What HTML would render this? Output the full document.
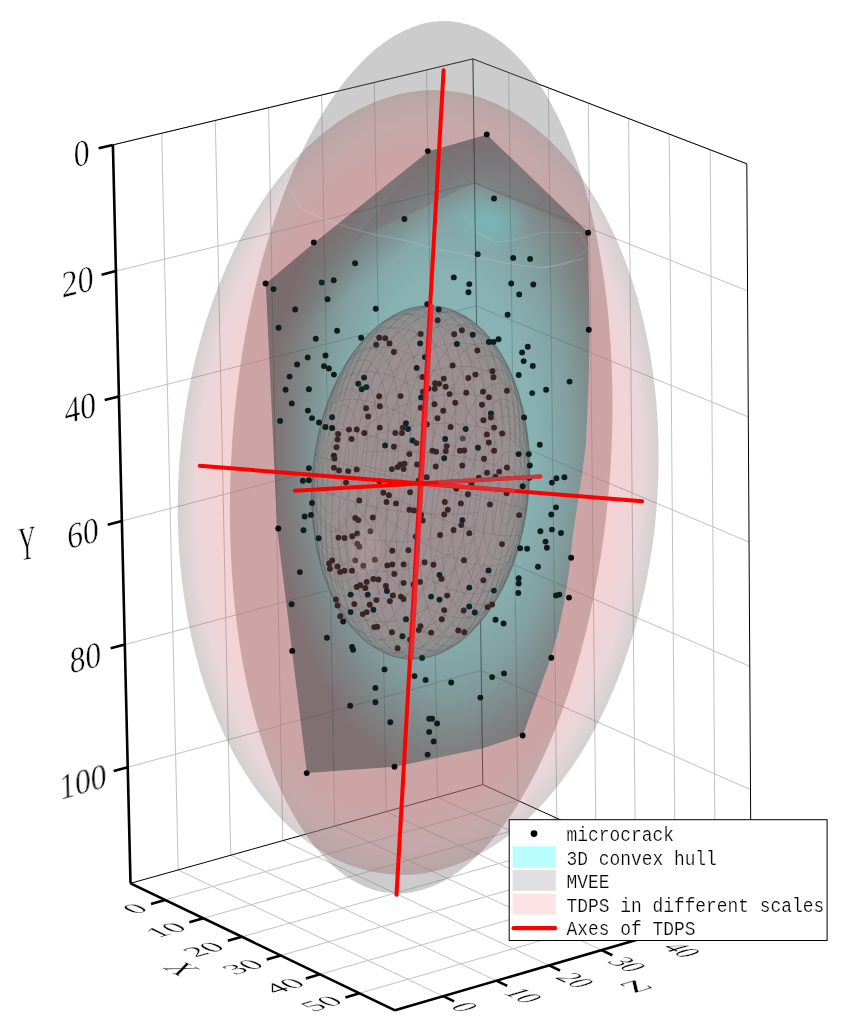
<!DOCTYPE html>
<html><head><meta charset="utf-8"><style>html,body{margin:0;padding:0;background:#fff;}svg{display:block;}</style></head>
<body>
<svg width="844" height="1034" viewBox="0 0 844 1034">
<rect width="844" height="1034" fill="#fff"/>
<g stroke="#c2c2c2" stroke-width="1" fill="none">
<line x1="161.7" y1="133.2" x2="178.2" y2="870.0"/>
<line x1="215.3" y1="120.4" x2="230.7" y2="855.3"/>
<line x1="268.6" y1="107.7" x2="282.8" y2="840.6"/>
<line x1="321.6" y1="95.0" x2="334.7" y2="826.1"/>
<line x1="374.3" y1="82.5" x2="386.2" y2="811.7"/>
<line x1="426.6" y1="70.0" x2="437.5" y2="797.3"/>
<line x1="112.9" y1="144.9" x2="472.9" y2="58.9"/>
<line x1="115.9" y1="271.1" x2="474.6" y2="182.9"/>
<line x1="118.9" y1="396.5" x2="476.3" y2="306.1"/>
<line x1="121.9" y1="521.0" x2="478.0" y2="428.4"/>
<line x1="124.8" y1="644.6" x2="479.6" y2="549.9"/>
<line x1="127.7" y1="767.3" x2="481.3" y2="670.5"/>
<line x1="508.7" y1="72.6" x2="517.9" y2="800.5"/>
<line x1="548.4" y1="87.8" x2="556.8" y2="818.1"/>
<line x1="588.3" y1="103.1" x2="595.9" y2="835.9"/>
<line x1="628.6" y1="118.5" x2="635.4" y2="853.8"/>
<line x1="669.2" y1="134.1" x2="675.2" y2="871.9"/>
<line x1="710.2" y1="149.8" x2="715.3" y2="890.1"/>
<line x1="472.9" y1="58.9" x2="746.8" y2="163.8"/>
<line x1="474.6" y1="182.9" x2="747.6" y2="290.8"/>
<line x1="476.3" y1="306.1" x2="748.3" y2="416.9"/>
<line x1="478.0" y1="428.4" x2="749.1" y2="542.0"/>
<line x1="479.6" y1="549.9" x2="749.8" y2="666.3"/>
<line x1="481.3" y1="670.5" x2="750.5" y2="789.7"/>
<line x1="165.0" y1="899.9" x2="517.9" y2="800.5"/>
<line x1="203.3" y1="918.3" x2="556.8" y2="818.1"/>
<line x1="241.9" y1="936.8" x2="595.9" y2="835.9"/>
<line x1="280.8" y1="955.5" x2="635.4" y2="853.8"/>
<line x1="320.0" y1="974.3" x2="675.2" y2="871.9"/>
<line x1="359.6" y1="993.3" x2="715.3" y2="890.1"/>
<line x1="178.2" y1="870.0" x2="443.2" y2="996.2"/>
<line x1="230.7" y1="855.3" x2="496.3" y2="980.7"/>
<line x1="282.8" y1="840.6" x2="549.1" y2="965.4"/>
<line x1="334.7" y1="826.1" x2="601.5" y2="950.1"/>
<line x1="386.2" y1="811.7" x2="653.6" y2="934.9"/>
<line x1="437.5" y1="797.3" x2="705.4" y2="919.8"/>
</g>
<g stroke="#000" stroke-width="1" fill="none">
<line x1="112.9" y1="144.9" x2="472.9" y2="58.9"/>
<line x1="472.9" y1="58.9" x2="746.8" y2="163.8"/>
<line x1="472.9" y1="58.9" x2="482.8" y2="784.6"/>
<line x1="746.8" y1="163.8" x2="751.2" y2="906.4"/>
<line x1="130.5" y1="883.3" x2="482.8" y2="784.6"/>
<line x1="482.8" y1="784.6" x2="751.2" y2="906.4"/>
</g>
<defs>
<radialGradient id="gA" cx="0.5" cy="0.5" r="0.5">
 <stop offset="0" stop-color="#cc4048" stop-opacity="0.235"/>
 <stop offset="0.84" stop-color="#cc4048" stop-opacity="0.235"/>
 <stop offset="0.93" stop-color="#a45860" stop-opacity="0.245"/>
 <stop offset="1" stop-color="#706262" stop-opacity="0.3"/>
</radialGradient>
<radialGradient id="gH" cx="0.56" cy="0.48" r="0.54">
 <stop offset="0" stop-color="#8cb7b8"/>
 <stop offset="0.5" stop-color="#88b1b2"/>
 <stop offset="0.7" stop-color="#829fa0"/>
 <stop offset="0.86" stop-color="#7e8586"/>
 <stop offset="1" stop-color="#807072"/>
</radialGradient>
<linearGradient id="gTop1" gradientUnits="userSpaceOnUse" x1="347" y1="217.5" x2="386" y2="266">
 <stop offset="0" stop-color="#7a6a6c" stop-opacity="0.75"/>
 <stop offset="1" stop-color="#6a6262" stop-opacity="0"/>
</linearGradient>
<linearGradient id="gTop2" gradientUnits="userSpaceOnUse" x1="537" y1="183" x2="505" y2="218">
 <stop offset="0" stop-color="#7a6a6c" stop-opacity="0.75"/>
 <stop offset="1" stop-color="#6a6262" stop-opacity="0"/>
</linearGradient>
<radialGradient id="gS" cx="0.5" cy="0.5" r="0.5">
 <stop offset="0" stop-color="#9e9092"/>
 <stop offset="0.75" stop-color="#9b8f91"/>
 <stop offset="0.9" stop-color="#948e8f"/>
 <stop offset="0.96" stop-color="#8c8e8e"/>
 <stop offset="1" stop-color="#808888"/>
</radialGradient>
<radialGradient id="gSpot" cx="0.5" cy="0.5" r="0.5">
 <stop offset="0" stop-color="#70c8cc" stop-opacity="0.55"/>
 <stop offset="1" stop-color="#70c8cc" stop-opacity="0"/>
</radialGradient>
<clipPath id="cEC"><ellipse cx="421.16" cy="457.24" rx="189.56" ry="437.01" transform="rotate(3.74 421.16 457.24)" /></clipPath>
<clipPath id="cH"><polygon points="265.8,283.6 314.0,243.0 428.3,151.4 486.8,134.7 588.0,232.2 589.6,329.3 588.7,382.0 585.9,444.0 581.9,475.0 577.2,506.0 572.6,537.0 569.5,568.0 564.8,599.0 558.6,630.0 551.0,657.4 522.9,735.1 482.0,748.5 394.7,766.8 306.9,772.9 277.2,529.1"/></clipPath>
</defs>
<ellipse cx="421.16" cy="457.24" rx="189.56" ry="437.01" transform="rotate(3.74 421.16 457.24)" fill="#808080" fill-opacity="0.4"/>
<ellipse cx="418.19" cy="482.46" rx="239.59" ry="392.87" transform="rotate(3.70 418.19 482.46)" fill="url(#gA)"/>
<g clip-path="url(#cEC)"><ellipse cx="418.19" cy="482.46" rx="239.59" ry="392.87" transform="rotate(3.70 418.19 482.46)" fill="#cc8c8e" fill-opacity="0.2"/></g>
<polygon points="265.8,283.6 314.0,243.0 428.3,151.4 486.8,134.7 588.0,232.2 589.6,329.3 588.7,382.0 585.9,444.0 581.9,475.0 577.2,506.0 572.6,537.0 569.5,568.0 564.8,599.0 558.6,630.0 551.0,657.4 522.9,735.1 482.0,748.5 394.7,766.8 306.9,772.9 277.2,529.1" fill="url(#gH)"/>
<g clip-path="url(#cH)"><polygon points="265.8,283.6 314.0,243.0 428.3,151.4 486.8,134.7 588.0,232.2 589.6,329.3 588.7,382.0 585.9,444.0 581.9,475.0 577.2,506.0 572.6,537.0 569.5,568.0 564.8,599.0 558.6,630.0 551.0,657.4 522.9,735.1 482.0,748.5 394.7,766.8 306.9,772.9 277.2,529.1" fill="url(#gTop1)"/></g>
<polygon points="352.4,241.6 428.3,151.4 486.8,134.7 588,232.2 473.5,183.4" fill="#7a6c6e" fill-opacity="0.4"/>
<ellipse cx="490" cy="222" rx="40" ry="30" fill="url(#gSpot)"/>
<polyline points="290.3,189.8 302,208.7 321,218.2 349.5,227.7 375.6,234.8 401.7,239.5 435.5,249 471,256 506.6,263.2 542.2,268 584.8,258.5" fill="none" stroke="#d8f4f4" stroke-opacity="0.22" stroke-width="1"/>
<polyline points="461.6,213.5 478.2,232.4 494.8,241.9 511.4,240.7 542.2,232.4 580,232.4 587.2,249 565.9,264.4 542.2,268" fill="none" stroke="#d8f4f4" stroke-opacity="0.16" stroke-width="1"/>
<g clip-path="url(#cH)" opacity="0.45"><g stroke="#2a4848" stroke-width="1" fill="none" stroke-opacity="0.55"><line x1="161.7" y1="133.2" x2="178.2" y2="870.0"/>
<line x1="215.3" y1="120.4" x2="230.7" y2="855.3"/>
<line x1="268.6" y1="107.7" x2="282.8" y2="840.6"/>
<line x1="321.6" y1="95.0" x2="334.7" y2="826.1"/>
<line x1="374.3" y1="82.5" x2="386.2" y2="811.7"/>
<line x1="426.6" y1="70.0" x2="437.5" y2="797.3"/>
<line x1="112.9" y1="144.9" x2="472.9" y2="58.9"/>
<line x1="115.9" y1="271.1" x2="474.6" y2="182.9"/>
<line x1="118.9" y1="396.5" x2="476.3" y2="306.1"/>
<line x1="121.9" y1="521.0" x2="478.0" y2="428.4"/>
<line x1="124.8" y1="644.6" x2="479.6" y2="549.9"/>
<line x1="127.7" y1="767.3" x2="481.3" y2="670.5"/>
<line x1="508.7" y1="72.6" x2="517.9" y2="800.5"/>
<line x1="548.4" y1="87.8" x2="556.8" y2="818.1"/>
<line x1="588.3" y1="103.1" x2="595.9" y2="835.9"/>
<line x1="628.6" y1="118.5" x2="635.4" y2="853.8"/>
<line x1="669.2" y1="134.1" x2="675.2" y2="871.9"/>
<line x1="710.2" y1="149.8" x2="715.3" y2="890.1"/>
<line x1="472.9" y1="58.9" x2="746.8" y2="163.8"/>
<line x1="474.6" y1="182.9" x2="747.6" y2="290.8"/>
<line x1="476.3" y1="306.1" x2="748.3" y2="416.9"/>
<line x1="478.0" y1="428.4" x2="749.1" y2="542.0"/>
<line x1="479.6" y1="549.9" x2="749.8" y2="666.3"/>
<line x1="481.3" y1="670.5" x2="750.5" y2="789.7"/>
<line x1="165.0" y1="899.9" x2="517.9" y2="800.5"/>
<line x1="203.3" y1="918.3" x2="556.8" y2="818.1"/>
<line x1="241.9" y1="936.8" x2="595.9" y2="835.9"/>
<line x1="280.8" y1="955.5" x2="635.4" y2="853.8"/>
<line x1="320.0" y1="974.3" x2="675.2" y2="871.9"/>
<line x1="359.6" y1="993.3" x2="715.3" y2="890.1"/>
<line x1="178.2" y1="870.0" x2="443.2" y2="996.2"/>
<line x1="230.7" y1="855.3" x2="496.3" y2="980.7"/>
<line x1="282.8" y1="840.6" x2="549.1" y2="965.4"/>
<line x1="334.7" y1="826.1" x2="601.5" y2="950.1"/>
<line x1="386.2" y1="811.7" x2="653.6" y2="934.9"/>
<line x1="437.5" y1="797.3" x2="705.4" y2="919.8"/></g><g stroke="#000" stroke-width="1"><line x1="472.9" y1="58.9" x2="482.8" y2="784.6"/><line x1="130.5" y1="883.3" x2="482.8" y2="784.6"/><line x1="482.8" y1="784.6" x2="751.2" y2="906.4"/><line x1="746.8" y1="163.8" x2="751.2" y2="906.4"/></g></g>
<ellipse cx="420.60" cy="482.50" rx="108.50" ry="177.00" transform="rotate(4.32 420.60 482.50)" fill="url(#gS)"/>
<path d="M506.6,441.1 L505.2,430.7 L503.5,420.6 L501.5,410.6 L499.2,401.0 L496.6,391.6 L493.7,382.6 L490.5,374.0 L487.1,365.7 L483.4,357.9 L479.5,350.6 L475.4,343.8 L471.1,337.4 L466.5,331.7 L461.8,326.5 L457.0,321.8 L452.0,317.8 L446.9,314.4 L441.7,311.6 L436.4,309.5 L431.1,308.0 L425.7,307.2 L420.3,307.0 L414.9,307.5 L409.5,308.6 L404.2,310.4 L398.9,312.9 L393.7,315.9 L388.6,319.6 L383.6,323.9 L378.8,328.8 L374.1,334.3 L369.6,340.3 L365.3,346.9 L361.2,354.0 L357.3,361.5 L353.6,369.5 L350.3,377.9 L347.1,386.8 L344.3,395.9 M511.1,440.8 L510.4,430.5 L509.4,420.3 L508.0,410.3 L506.3,400.6 L504.3,391.2 L502.0,382.2 L499.4,373.5 L496.4,365.2 L493.2,357.4 L489.7,350.1 L486.0,343.2 L482.0,336.9 L477.8,331.1 L473.4,325.9 L468.7,321.2 L463.9,317.2 L459.0,313.8 L453.9,311.0 L448.6,308.9 L443.3,307.4 L437.8,306.5 L432.3,306.4 L426.8,306.9 L421.3,308.0 L415.7,309.8 L410.1,312.3 L404.6,315.4 L399.2,319.1 L393.8,323.4 L388.6,328.3 L383.4,333.8 L378.4,339.9 L373.6,346.5 L368.9,353.6 L364.4,361.1 L360.1,369.2 L356.1,377.6 L352.3,386.5 L348.8,395.7 M515.2,443.1 L515.2,433.0 L514.8,423.2 L514.0,413.5 L512.9,404.1 L511.4,395.0 L509.6,386.3 L507.5,377.9 L505.0,369.9 L502.2,362.3 L499.1,355.1 L495.8,348.5 L492.1,342.3 L488.2,336.7 L484.0,331.6 L479.6,327.1 L474.9,323.1 L470.1,319.8 L465.1,317.0 L459.9,314.9 L454.5,313.4 L449.0,312.6 L443.5,312.4 L437.8,312.8 L432.1,313.8 L426.3,315.5 L420.5,317.9 L414.7,320.8 L409.0,324.3 L403.2,328.5 L397.6,333.2 L392.0,338.4 L386.5,344.2 L381.2,350.6 L376.0,357.4 L371.0,364.7 L366.1,372.4 L361.5,380.5 L357.1,389.1 L352.9,397.9 M518.9,447.7 L519.4,438.3 L519.5,429.2 L519.2,420.2 L518.6,411.4 L517.6,402.9 L516.3,394.8 L514.6,386.9 L512.5,379.4 L510.1,372.3 L507.4,365.6 L504.3,359.3 L500.9,353.5 L497.2,348.2 L493.3,343.4 L489.0,339.1 L484.5,335.4 L479.8,332.2 L474.9,329.5 L469.7,327.4 L464.4,326.0 L458.8,325.1 L453.2,324.8 L447.4,325.0 L441.5,325.9 L435.6,327.4 L429.6,329.4 L423.5,332.0 L417.5,335.2 L411.5,338.9 L405.4,343.2 L399.5,348.0 L393.6,353.3 L387.9,359.1 L382.2,365.3 L376.7,372.0 L371.4,379.1 L366.2,386.5 L361.3,394.4 L356.5,402.6 M521.8,454.5 L522.8,446.2 L523.3,438.0 L523.5,430.0 L523.3,422.2 L522.7,414.6 L521.7,407.3 L520.4,400.3 L518.7,393.5 L516.6,387.1 L514.1,381.1 L511.3,375.4 L508.2,370.1 L504.7,365.3 L500.9,360.9 L496.8,356.9 L492.4,353.5 L487.8,350.5 L482.9,348.0 L477.8,346.0 L472.4,344.5 L466.9,343.5 L461.2,343.1 L455.3,343.1 L449.3,343.7 L443.2,344.8 L437.0,346.5 L430.8,348.6 L424.5,351.3 L418.2,354.4 L411.9,358.0 L405.6,362.1 L399.4,366.6 L393.3,371.6 L387.3,377.0 L381.4,382.8 L375.7,388.9 L370.1,395.4 L364.7,402.2 L359.5,409.4 M524.0,463.3 L525.3,456.3 L526.2,449.4 L526.7,442.7 L526.8,436.1 L526.5,429.7 L525.8,423.4 L524.7,417.4 L523.2,411.7 L521.3,406.2 L519.1,401.0 L516.5,396.1 L513.5,391.5 L510.2,387.2 L506.5,383.4 L502.5,379.8 L498.2,376.7 L493.7,374.0 L488.8,371.7 L483.7,369.8 L478.4,368.3 L472.8,367.2 L467.1,366.6 L461.1,366.4 L455.0,366.6 L448.8,367.3 L442.5,368.4 L436.1,370.0 L429.7,371.9 L423.2,374.3 L416.7,377.1 L410.2,380.2 L403.7,383.8 L397.4,387.7 L391.1,392.0 L384.9,396.6 L378.8,401.6 L372.9,406.8 L367.2,412.3 L361.7,418.1 M525.4,473.6 L526.9,468.3 L527.9,462.9 L528.6,457.7 L528.9,452.5 L528.8,447.4 L528.2,442.5 L527.3,437.7 L526.0,433.1 L524.2,428.7 L522.1,424.5 L519.6,420.5 L516.8,416.7 L513.5,413.2 L510.0,409.9 L506.0,406.9 L501.8,404.2 L497.3,401.8 L492.4,399.7 L487.4,397.9 L482.0,396.4 L476.4,395.3 L470.7,394.4 L464.7,393.9 L458.5,393.7 L452.3,393.9 L445.9,394.4 L439.4,395.2 L432.8,396.4 L426.2,397.8 L419.6,399.6 L413.0,401.7 L406.4,404.1 L399.8,406.8 L393.4,409.8 L387.0,413.0 L380.8,416.5 L374.7,420.3 L368.8,424.3 L363.0,428.5 M525.8,485.2 L527.4,481.6 L528.5,478.0 L529.2,474.4 L529.6,470.8 L529.5,467.3 L529.0,463.8 L528.2,460.4 L526.9,457.1 L525.2,453.9 L523.1,450.8 L520.6,447.8 L517.8,444.9 L514.6,442.2 L511.1,439.6 L507.2,437.2 L503.0,435.0 L498.4,432.9 L493.6,431.0 L488.5,429.3 L483.2,427.8 L477.6,426.6 L471.8,425.5 L465.8,424.6 L459.7,424.0 L453.4,423.6 L447.0,423.4 L440.4,423.4 L433.8,423.6 L427.2,424.1 L420.5,424.8 L413.9,425.7 L407.2,426.8 L400.6,428.1 L394.1,429.6 L387.7,431.3 L381.4,433.3 L375.2,435.4 L369.3,437.6 L363.5,440.1 M525.3,497.6 L526.8,495.8 L527.9,494.0 L528.5,492.2 L528.8,490.3 L528.7,488.4 L528.1,486.5 L527.2,484.6 L525.9,482.6 L524.1,480.7 L522.0,478.8 L519.5,476.9 L516.6,475.0 L513.4,473.1 L509.8,471.2 L505.9,469.5 L501.7,467.7 L497.1,466.0 L492.3,464.4 L487.2,462.8 L481.9,461.3 L476.3,459.9 L470.5,458.6 L464.5,457.4 L458.4,456.2 L452.1,455.2 L445.7,454.3 L439.2,453.4 L432.7,452.7 L426.1,452.1 L419.5,451.6 L412.8,451.2 L406.2,451.0 L399.7,450.8 L393.3,450.8 L386.9,450.9 L380.7,451.1 L374.6,451.4 L368.7,451.9 L363.0,452.4 M523.9,510.2 L525.2,510.4 L526.0,510.5 L526.5,510.4 L526.6,510.3 L526.3,510.1 L525.6,509.8 L524.5,509.3 L523.0,508.8 L521.1,508.2 L518.8,507.4 L516.2,506.6 L513.2,505.7 L509.9,504.7 L506.2,503.6 L502.2,502.5 L497.9,501.2 L493.4,499.9 L488.5,498.6 L483.4,497.1 L478.1,495.6 L472.5,494.1 L466.8,492.5 L460.8,490.9 L454.7,489.3 L448.5,487.6 L442.2,485.9 L435.8,484.2 L429.4,482.5 L422.9,480.8 L416.4,479.1 L409.9,477.4 L403.5,475.7 L397.1,474.1 L390.9,472.4 L384.7,470.9 L378.7,469.3 L372.8,467.8 L367.1,466.4 L361.6,465.0 M521.7,522.6 L522.6,524.7 L523.1,526.6 L523.3,528.4 L523.0,530.0 L522.4,531.4 L521.4,532.6 L520.1,533.7 L518.3,534.5 L516.2,535.2 L513.7,535.7 L510.9,535.9 L507.8,536.0 L504.3,535.8 L500.5,535.5 L496.4,535.0 L492.0,534.2 L487.3,533.3 L482.4,532.2 L477.3,530.9 L472.0,529.4 L466.4,527.7 L460.7,525.9 L454.9,523.9 L448.9,521.8 L442.8,519.5 L436.6,517.0 L430.4,514.5 L424.1,511.8 L417.8,509.0 L411.5,506.1 L405.3,503.1 L399.1,500.1 L393.0,496.9 L387.0,493.8 L381.1,490.5 L375.4,487.3 L369.9,484.0 L364.5,480.7 L359.3,477.5 M518.7,534.4 L519.1,538.3 L519.2,541.9 L518.9,545.4 L518.3,548.6 L517.3,551.6 L515.9,554.3 L514.2,556.7 L512.1,558.9 L509.7,560.8 L506.9,562.3 L503.8,563.6 L500.4,564.6 L496.7,565.3 L492.7,565.6 L488.5,565.7 L484.0,565.4 L479.3,564.9 L474.3,564.0 L469.1,562.8 L463.8,561.3 L458.3,559.5 L452.6,557.5 L446.9,555.1 L441.0,552.5 L435.1,549.6 L429.1,546.5 L423.0,543.1 L417.0,539.5 L411.0,535.7 L405.0,531.7 L399.1,527.5 L393.2,523.1 L387.5,518.6 L381.8,513.9 L376.4,509.1 L371.1,504.3 L365.9,499.3 L361.0,494.3 L356.3,489.2 M515.0,545.0 L514.9,550.5 L514.4,555.8 L513.6,560.7 L512.5,565.4 L511.0,569.8 L509.2,573.8 L507.0,577.5 L504.5,580.9 L501.7,583.9 L498.6,586.5 L495.2,588.7 L491.5,590.5 L487.6,591.9 L483.4,592.9 L478.9,593.5 L474.3,593.6 L469.4,593.4 L464.4,592.7 L459.2,591.7 L453.8,590.2 L448.4,588.3 L442.8,586.0 L437.2,583.3 L431.4,580.3 L425.7,576.9 L419.9,573.1 L414.1,569.0 L408.4,564.5 L402.7,559.8 L397.0,554.8 L391.5,549.5 L386.0,543.9 L380.7,538.1 L375.6,532.1 L370.6,526.0 L365.8,519.6 L361.2,513.1 L356.8,506.5 L352.7,499.9 M510.8,554.1 L510.1,561.0 L509.0,567.6 L507.6,573.9 L505.9,579.8 L503.8,585.4 L501.5,590.6 L498.8,595.4 L495.9,599.7 L492.6,603.6 L489.1,607.1 L485.4,610.1 L481.4,612.6 L477.1,614.7 L472.7,616.2 L468.0,617.3 L463.2,617.8 L458.2,617.8 L453.1,617.3 L447.9,616.4 L442.5,614.9 L437.1,612.9 L431.6,610.4 L426.1,607.5 L420.5,604.1 L415.0,600.2 L409.5,595.9 L404.0,591.1 L398.5,586.0 L393.2,580.4 L388.0,574.5 L382.9,568.3 L377.9,561.7 L373.1,554.9 L368.4,547.7 L364.0,540.4 L359.8,532.8 L355.8,525.0 L352.0,517.0 L348.5,509.0 M506.3,561.3 L504.9,569.3 L503.1,577.0 L501.1,584.3 L498.7,591.2 L496.1,597.8 L493.2,603.9 L490.0,609.5 L486.5,614.7 L482.8,619.3 L478.9,623.5 L474.7,627.1 L470.4,630.2 L465.8,632.7 L461.1,634.7 L456.2,636.1 L451.2,636.9 L446.1,637.2 L440.9,636.9 L435.6,635.9 L430.3,634.5 L424.9,632.4 L419.5,629.8 L414.1,626.6 L408.7,622.9 L403.4,618.7 L398.1,613.9 L393.0,608.7 L387.9,603.0 L383.0,596.8 L378.1,590.2 L373.5,583.2 L369.0,575.9 L364.8,568.1 L360.7,560.1 L356.8,551.8 L353.2,543.2 L349.9,534.4 L346.8,525.3 L344.0,516.2 M501.6,566.4 L499.5,575.1 L497.0,583.5 L494.3,591.6 L491.3,599.2 L488.1,606.4 L484.5,613.1 L480.8,619.4 L476.8,625.1 L472.6,630.3 L468.2,635.0 L463.7,639.0 L458.9,642.5 L454.1,645.4 L449.1,647.7 L444.0,649.3 L438.8,650.3 L433.5,650.7 L428.2,650.5 L422.9,649.7 L417.5,648.2 L412.2,646.1 L406.9,643.3 L401.6,640.0 L396.5,636.1 L391.4,631.6 L386.4,626.6 L381.6,621.0 L376.8,614.9 L372.3,608.3 L367.9,601.2 L363.8,593.7 L359.8,585.8 L356.1,577.4 L352.6,568.8 L349.4,559.8 L346.5,550.5 L343.8,540.9 L341.4,531.2 L339.3,521.2 M496.9,569.1 L494.1,578.2 L490.9,587.1 L487.6,595.5 L483.9,603.5 L480.0,611.0 L475.9,618.1 L471.6,624.7 L467.1,630.7 L462.4,636.2 L457.6,641.1 L452.6,645.4 L447.5,649.1 L442.3,652.1 L437.0,654.6 L431.7,656.4 L426.3,657.5 L420.9,658.0 L415.5,657.8 L410.1,657.0 L404.8,655.5 L399.5,653.4 L394.3,650.6 L389.2,647.2 L384.2,643.2 L379.4,638.5 L374.7,633.3 L370.1,627.6 L365.8,621.2 L361.7,614.4 L357.8,607.1 L354.1,599.3 L350.7,591.0 L347.5,582.4 L344.6,573.4 L342.0,564.0 L339.7,554.4 L337.7,544.4 L336.0,534.3 L334.6,523.9 M492.4,569.3 L488.9,578.5 L485.1,587.4 L481.1,595.8 L476.8,603.9 L472.3,611.4 L467.6,618.5 L462.8,625.1 L457.8,631.2 L452.6,636.7 L447.4,641.6 L442.0,645.9 L436.6,649.6 L431.1,652.7 L425.5,655.2 L419.9,657.0 L414.4,658.1 L408.9,658.6 L403.4,658.5 L397.9,657.6 L392.6,656.1 L387.3,654.0 L382.2,651.2 L377.3,647.8 L372.5,643.8 L367.8,639.1 L363.4,633.9 L359.2,628.1 L355.2,621.8 L351.5,614.9 L348.0,607.6 L344.8,599.8 L341.8,591.5 L339.2,582.8 L336.9,573.8 L334.9,564.4 L333.2,554.7 L331.8,544.7 L330.8,534.5 L330.1,524.2 M488.3,567.1 L484.1,575.9 L479.7,584.5 L475.1,592.6 L470.2,600.3 L465.2,607.6 L460.0,614.4 L454.7,620.8 L449.2,626.6 L443.6,631.8 L438.0,636.5 L432.2,640.7 L426.5,644.2 L420.7,647.1 L414.9,649.5 L409.1,651.2 L403.4,652.2 L397.7,652.6 L392.2,652.4 L386.7,651.6 L381.3,650.1 L376.1,648.0 L371.1,645.2 L366.3,641.9 L361.6,637.9 L357.2,633.4 L353.0,628.3 L349.1,622.7 L345.4,616.5 L342.1,609.9 L339.0,602.7 L336.2,595.1 L333.7,587.1 L331.6,578.7 L329.8,570.0 L328.3,560.9 L327.2,551.5 L326.4,541.8 L326.0,532.0 L326.0,521.9 M484.7,562.4 L479.9,570.6 L475.0,578.5 L469.8,585.9 L464.5,593.0 L459.0,599.7 L453.3,605.9 L447.6,611.7 L441.7,617.0 L435.8,621.8 L429.7,626.1 L423.7,629.8 L417.7,633.0 L411.6,635.6 L405.6,637.6 L399.7,639.1 L393.8,640.0 L388.0,640.2 L382.4,639.9 L376.8,639.0 L371.5,637.6 L366.3,635.5 L361.4,632.8 L356.7,629.6 L352.2,625.9 L347.9,621.6 L344.0,616.8 L340.3,611.5 L336.9,605.7 L333.8,599.4 L331.1,592.7 L328.7,585.6 L326.6,578.1 L324.9,570.2 L323.6,562.1 L322.6,553.6 L322.0,544.8 L321.7,535.8 L321.8,526.7 L322.3,517.3 M481.7,555.6 L476.5,562.8 L471.1,569.6 L465.5,576.1 L459.8,582.2 L453.9,588.0 L447.9,593.4 L441.8,598.4 L435.6,602.9 L429.3,607.0 L423.0,610.6 L416.7,613.7 L410.4,616.4 L404.2,618.5 L398.0,620.2 L391.9,621.3 L385.9,621.9 L380.0,621.9 L374.3,621.5 L368.8,620.5 L363.4,619.0 L358.3,617.0 L353.4,614.5 L348.8,611.5 L344.4,608.1 L340.3,604.1 L336.5,599.7 L333.0,594.9 L329.9,589.6 L327.1,583.9 L324.6,577.9 L322.5,571.5 L320.8,564.7 L319.5,557.7 L318.5,550.4 L317.9,542.8 L317.7,535.0 L317.9,527.0 L318.4,518.8 L319.4,510.5 M479.5,546.9 L474.0,552.7 L468.3,558.2 L462.4,563.4 L456.3,568.4 L450.1,573.0 L443.8,577.3 L437.5,581.2 L431.0,584.8 L424.5,587.9 L418.0,590.7 L411.5,593.1 L405.1,595.0 L398.7,596.6 L392.4,597.7 L386.2,598.4 L380.1,598.6 L374.1,598.4 L368.4,597.8 L362.8,596.7 L357.5,595.2 L352.4,593.3 L347.5,591.0 L343.0,588.3 L338.7,585.2 L334.7,581.6 L331.0,577.8 L327.7,573.5 L324.7,568.9 L322.1,564.0 L319.9,558.8 L318.0,553.3 L316.5,547.6 L315.4,541.6 L314.7,535.3 L314.4,528.9 L314.5,522.3 L315.0,515.6 L315.9,508.7 L317.2,501.7 M478.2,536.5 L472.4,540.7 L466.5,544.7 L460.4,548.5 L454.2,552.0 L447.8,555.2 L441.4,558.2 L434.8,560.9 L428.2,563.3 L421.6,565.4 L415.0,567.2 L408.4,568.6 L401.8,569.8 L395.3,570.6 L388.9,571.1 L382.7,571.3 L376.5,571.1 L370.5,570.6 L364.8,569.7 L359.2,568.6 L353.8,567.1 L348.8,565.3 L343.9,563.2 L339.4,560.8 L335.2,558.1 L331.2,555.1 L327.7,551.8 L324.4,548.3 L321.6,544.5 L319.1,540.5 L317.0,536.3 L315.2,531.9 L313.9,527.3 L313.0,522.5 L312.4,517.6 L312.3,512.5 L312.6,507.3 L313.3,502.1 L314.3,496.7 L315.8,491.4 M477.7,524.9 L471.9,527.4 L466.0,529.6 L459.8,531.7 L453.5,533.7 L447.1,535.4 L440.6,536.9 L434.0,538.2 L427.3,539.3 L420.7,540.2 L414.0,540.9 L407.4,541.4 L400.8,541.6 L394.2,541.6 L387.8,541.4 L381.5,541.0 L375.4,540.4 L369.4,539.5 L363.6,538.4 L358.0,537.2 L352.7,535.7 L347.6,534.0 L342.8,532.1 L338.2,530.0 L334.0,527.8 L330.1,525.4 L326.6,522.8 L323.4,520.1 L320.6,517.2 L318.1,514.2 L316.0,511.1 L314.3,507.9 L313.0,504.6 L312.2,501.2 L311.7,497.7 L311.6,494.2 L312.0,490.6 L312.7,487.0 L313.8,483.4 L315.4,479.8 M478.2,512.6 L472.5,513.1 L466.6,513.6 L460.5,513.9 L454.3,514.1 L447.9,514.2 L441.5,514.2 L435.0,514.0 L428.4,513.8 L421.7,513.4 L415.1,512.9 L408.5,512.3 L402.0,511.6 L395.5,510.7 L389.1,509.8 L382.8,508.8 L376.7,507.6 L370.7,506.4 L364.9,505.1 L359.3,503.7 L354.0,502.2 L348.9,500.6 L344.1,499.0 L339.5,497.3 L335.3,495.5 L331.4,493.8 L327.8,491.9 L324.6,490.0 L321.7,488.1 L319.2,486.2 L317.1,484.3 L315.3,482.4 L314.0,480.4 L313.1,478.5 L312.5,476.6 L312.4,474.7 L312.7,472.8 L313.3,471.0 L314.4,469.2 L315.9,467.4 M479.6,500.0 L474.1,498.6 L468.4,497.2 L462.5,495.7 L456.5,494.1 L450.3,492.6 L444.1,490.9 L437.7,489.3 L431.3,487.6 L424.8,485.9 L418.3,484.2 L411.8,482.5 L405.4,480.8 L399.0,479.1 L392.7,477.4 L386.5,475.7 L380.4,474.1 L374.4,472.5 L368.7,470.9 L363.1,469.4 L357.8,467.9 L352.7,466.4 L347.8,465.1 L343.3,463.8 L339.0,462.5 L335.0,461.4 L331.3,460.3 L328.0,459.3 L325.0,458.4 L322.4,457.6 L320.1,456.8 L318.2,456.2 L316.7,455.7 L315.6,455.2 L314.9,454.9 L314.6,454.7 L314.7,454.6 L315.2,454.5 L316.0,454.6 L317.3,454.8 M481.9,487.5 L476.7,484.3 L471.3,481.0 L465.8,477.7 L460.1,474.5 L454.2,471.2 L448.2,468.1 L442.1,464.9 L435.9,461.9 L429.7,458.9 L423.4,456.0 L417.1,453.2 L410.8,450.5 L404.6,448.0 L398.4,445.5 L392.3,443.2 L386.3,441.1 L380.5,439.1 L374.8,437.3 L369.2,435.6 L363.9,434.1 L358.8,432.8 L353.9,431.7 L349.2,430.8 L344.8,430.0 L340.7,429.5 L336.9,429.2 L333.4,429.0 L330.3,429.1 L327.5,429.3 L325.0,429.8 L322.9,430.5 L321.1,431.3 L319.8,432.4 L318.8,433.6 L318.2,435.0 L317.9,436.6 L318.1,438.4 L318.6,440.3 L319.5,442.4 M484.9,475.8 L480.2,470.7 L475.3,465.7 L470.1,460.7 L464.8,455.9 L459.4,451.1 L453.7,446.4 L448.0,441.9 L442.1,437.5 L436.2,433.3 L430.2,429.3 L424.2,425.5 L418.2,421.9 L412.1,418.5 L406.1,415.4 L400.2,412.5 L394.3,409.9 L388.6,407.5 L382.9,405.5 L377.4,403.7 L372.1,402.2 L366.9,401.0 L361.9,400.1 L357.2,399.6 L352.7,399.3 L348.5,399.4 L344.5,399.7 L340.8,400.4 L337.4,401.4 L334.3,402.7 L331.5,404.2 L329.1,406.1 L327.0,408.3 L325.3,410.7 L323.9,413.4 L322.9,416.4 L322.3,419.6 L322.0,423.1 L322.1,426.7 L322.5,430.6 M488.5,465.1 L484.4,458.5 L480.0,451.9 L475.4,445.4 L470.6,439.0 L465.6,432.9 L460.5,426.9 L455.2,421.1 L449.7,415.5 L444.2,410.2 L438.5,405.2 L432.8,400.5 L427.1,396.0 L421.3,391.9 L415.5,388.1 L409.8,384.7 L404.0,381.7 L398.4,379.0 L392.8,376.7 L387.4,374.8 L382.0,373.3 L376.8,372.3 L371.8,371.6 L366.9,371.4 L362.3,371.5 L357.8,372.1 L353.6,373.1 L349.7,374.5 L346.0,376.3 L342.6,378.5 L339.5,381.1 L336.7,384.1 L334.2,387.5 L332.0,391.2 L330.2,395.2 L328.7,399.6 L327.6,404.3 L326.8,409.2 L326.3,414.5 L326.2,420.0 M492.7,456.0 L489.2,448.0 L485.4,440.0 L481.4,432.2 L477.2,424.6 L472.8,417.3 L468.1,410.1 L463.3,403.3 L458.3,396.7 L453.2,390.5 L448.0,384.6 L442.7,379.0 L437.2,373.9 L431.7,369.1 L426.2,364.8 L420.7,360.9 L415.1,357.5 L409.6,354.6 L404.1,352.1 L398.7,350.1 L393.3,348.6 L388.1,347.7 L383.0,347.2 L378.0,347.2 L373.2,347.7 L368.5,348.8 L364.1,350.3 L359.8,352.4 L355.8,354.9 L352.1,357.9 L348.6,361.4 L345.3,365.3 L342.4,369.6 L339.7,374.4 L337.4,379.6 L335.3,385.2 L333.6,391.1 L332.2,397.4 L331.1,404.0 L330.4,410.9 M497.2,448.8 L494.4,439.7 L491.3,430.6 L488.0,421.8 L484.4,413.2 L480.5,404.9 L476.4,396.9 L472.2,389.1 L467.7,381.8 L463.1,374.8 L458.2,368.2 L453.3,362.0 L448.2,356.3 L443.1,351.1 L437.8,346.3 L432.5,342.1 L427.1,338.4 L421.7,335.2 L416.3,332.6 L410.9,330.5 L405.6,329.1 L400.3,328.1 L395.1,327.8 L390.0,328.1 L385.0,328.9 L380.1,330.3 L375.4,332.3 L370.8,334.8 L366.5,337.9 L362.3,341.5 L358.4,345.7 L354.7,350.3 L351.2,355.5 L348.0,361.1 L345.1,367.2 L342.5,373.8 L340.1,380.7 L338.1,388.0 L336.3,395.7 L334.9,403.7 M501.9,443.8 L499.8,433.8 L497.4,424.1 L494.7,414.5 L491.8,405.2 L488.6,396.2 L485.1,387.6 L481.4,379.2 L477.4,371.3 L473.3,363.8 L468.9,356.7 L464.4,350.1 L459.6,344.0 L454.8,338.4 L449.8,333.4 L444.7,328.9 L439.6,325.0 L434.3,321.7 L429.0,318.9 L423.7,316.8 L418.3,315.3 L413.0,314.5 L407.7,314.3 L402.4,314.7 L397.2,315.7 L392.1,317.3 L387.1,319.6 L382.3,322.5 L377.5,326.0 L373.0,330.0 L368.6,334.7 L364.4,339.9 L360.4,345.6 L356.7,351.9 L353.1,358.6 L349.9,365.8 L346.9,373.4 L344.2,381.5 L341.7,389.9 L339.6,398.6 M508.8,488.5 L509.5,488.4 L510.1,488.4 L510.7,488.7 L511.3,489.1 L511.8,489.7 L512.3,490.4 L512.8,491.4 L513.2,492.4 L513.5,493.6 L513.8,495.0 L514.0,496.5 L514.1,498.0 L514.2,499.7 L514.2,501.4 L514.2,503.2 L514.1,505.0 L513.9,506.8 L513.6,508.6 L513.3,510.4 L512.9,512.2 L512.5,513.9 L512.0,515.5 L511.5,517.1 L511.0,518.5 L510.4,519.8 L509.7,521.0 L509.1,522.1 L508.4,523.0 L507.7,523.7 L507.1,524.3 L506.4,524.7 L505.7,524.9 L505.1,524.9 L504.4,524.8 L503.8,524.4 L503.3,523.9 L502.8,523.3 L502.3,522.4 L501.9,521.4 L501.5,520.3 L501.2,519.0 L500.9,517.6 L500.8,516.1 L500.6,514.5 L500.6,512.8 L500.6,511.0 L500.7,509.2 L500.9,507.4 L501.1,505.6 L501.4,503.8 L501.7,502.0 L502.1,500.3 L502.5,498.6 L503.0,497.0 L503.6,495.5 L504.2,494.1 L504.8,492.8 L505.4,491.7 L506.1,490.7 L506.8,489.9 L507.4,489.3 L508.1,488.8 L508.8,488.5Z M508.7,470.1 L510.0,469.9 L511.3,470.0 L512.5,470.5 L513.7,471.3 L514.7,472.5 L515.7,474.0 L516.6,475.8 L517.4,478.0 L518.1,480.4 L518.6,483.1 L519.1,486.0 L519.4,489.1 L519.5,492.4 L519.6,495.8 L519.5,499.3 L519.2,502.9 L518.8,506.5 L518.3,510.1 L517.7,513.7 L517.0,517.2 L516.1,520.6 L515.2,523.9 L514.2,527.0 L513.0,529.8 L511.8,532.5 L510.6,534.9 L509.3,537.0 L508.0,538.8 L506.6,540.2 L505.3,541.3 L503.9,542.1 L502.6,542.5 L501.3,542.6 L500.1,542.3 L498.9,541.7 L497.8,540.6 L496.7,539.3 L495.8,537.6 L494.9,535.6 L494.2,533.3 L493.6,530.8 L493.1,528.0 L492.7,525.0 L492.5,521.8 L492.4,518.4 L492.5,514.9 L492.6,511.4 L492.9,507.8 L493.4,504.1 L493.9,500.5 L494.6,497.0 L495.4,493.5 L496.3,490.2 L497.3,487.0 L498.4,484.0 L499.5,481.3 L500.8,478.8 L502.0,476.5 L503.3,474.6 L504.7,473.0 L506.0,471.7 L507.4,470.7 L508.7,470.1Z M507.7,451.9 L509.6,451.5 L511.5,451.7 L513.3,452.4 L515.0,453.6 L516.6,455.4 L518.1,457.7 L519.4,460.4 L520.6,463.6 L521.6,467.2 L522.4,471.1 L523.1,475.5 L523.5,480.1 L523.7,485.0 L523.8,490.0 L523.6,495.3 L523.3,500.6 L522.7,506.0 L522.0,511.4 L521.1,516.7 L520.0,521.9 L518.7,527.0 L517.3,531.8 L515.8,536.4 L514.1,540.7 L512.3,544.6 L510.5,548.1 L508.5,551.2 L506.6,553.9 L504.6,556.1 L502.6,557.8 L500.6,558.9 L498.6,559.5 L496.7,559.6 L494.8,559.2 L493.1,558.2 L491.4,556.7 L489.9,554.7 L488.5,552.2 L487.2,549.3 L486.1,545.9 L485.2,542.1 L484.5,537.9 L483.9,533.4 L483.6,528.7 L483.5,523.7 L483.5,518.5 L483.8,513.2 L484.2,507.9 L484.9,502.5 L485.7,497.1 L486.7,491.8 L487.9,486.7 L489.2,481.7 L490.7,477.0 L492.3,472.6 L494.0,468.5 L495.8,464.8 L497.7,461.4 L499.7,458.5 L501.7,456.1 L503.7,454.2 L505.7,452.8 L507.7,451.9Z M505.7,434.0 L508.3,433.5 L510.7,433.7 L513.1,434.7 L515.4,436.3 L517.5,438.6 L519.4,441.6 L521.2,445.2 L522.7,449.4 L524.0,454.1 L525.1,459.3 L525.9,465.0 L526.5,471.1 L526.8,477.5 L526.9,484.2 L526.7,491.1 L526.2,498.1 L525.5,505.2 L524.5,512.3 L523.3,519.3 L521.9,526.2 L520.2,532.8 L518.4,539.2 L516.3,545.2 L514.1,550.9 L511.8,556.0 L509.4,560.7 L506.8,564.8 L504.2,568.3 L501.6,571.1 L498.9,573.3 L496.3,574.9 L493.7,575.7 L491.2,575.8 L488.8,575.2 L486.4,573.9 L484.3,572.0 L482.2,569.3 L480.4,566.0 L478.7,562.1 L477.3,557.7 L476.1,552.7 L475.2,547.2 L474.4,541.3 L474.0,535.1 L473.8,528.5 L473.9,521.7 L474.2,514.7 L474.8,507.7 L475.7,500.6 L476.8,493.5 L478.1,486.6 L479.6,479.8 L481.4,473.3 L483.3,467.1 L485.5,461.3 L487.7,455.9 L490.1,450.9 L492.6,446.6 L495.2,442.8 L497.8,439.6 L500.4,437.0 L503.1,435.2 L505.7,434.0Z M502.8,416.6 L505.9,416.0 L509.0,416.3 L511.9,417.5 L514.7,419.5 L517.3,422.3 L519.6,426.0 L521.8,430.4 L523.7,435.5 L525.3,441.4 L526.6,447.8 L527.7,454.8 L528.4,462.3 L528.8,470.2 L528.8,478.4 L528.6,486.8 L528.0,495.5 L527.1,504.2 L525.9,512.9 L524.4,521.5 L522.6,530.0 L520.6,538.1 L518.3,546.0 L515.8,553.4 L513.1,560.3 L510.3,566.6 L507.3,572.4 L504.2,577.4 L501.0,581.7 L497.7,585.2 L494.5,587.9 L491.2,589.8 L488.1,590.8 L484.9,591.0 L481.9,590.3 L479.1,588.7 L476.4,586.3 L473.9,583.0 L471.7,579.0 L469.6,574.2 L467.9,568.7 L466.4,562.5 L465.2,555.8 L464.4,548.6 L463.8,540.9 L463.6,532.8 L463.7,524.5 L464.1,515.9 L464.8,507.2 L465.9,498.5 L467.2,489.8 L468.8,481.3 L470.7,473.0 L472.9,464.9 L475.3,457.3 L477.9,450.1 L480.7,443.5 L483.6,437.5 L486.7,432.1 L489.8,427.4 L493.1,423.5 L496.3,420.4 L499.6,418.1 L502.8,416.6Z M498.9,400.0 L502.6,399.3 L506.2,399.6 L509.7,401.0 L512.9,403.3 L516.0,406.7 L518.8,411.0 L521.3,416.2 L523.5,422.2 L525.4,429.1 L527.0,436.6 L528.2,444.8 L529.0,453.6 L529.5,462.9 L529.6,472.6 L529.3,482.5 L528.6,492.7 L527.6,502.9 L526.2,513.2 L524.4,523.3 L522.3,533.2 L519.9,542.8 L517.2,552.0 L514.3,560.7 L511.1,568.9 L507.8,576.3 L504.2,583.1 L500.6,589.0 L496.8,594.0 L493.0,598.2 L489.2,601.4 L485.4,603.6 L481.6,604.8 L478.0,605.0 L474.5,604.1 L471.1,602.2 L468.0,599.4 L465.0,595.6 L462.4,590.8 L460.0,585.2 L457.9,578.7 L456.2,571.5 L454.8,563.6 L453.8,555.1 L453.1,546.1 L452.9,536.6 L453.0,526.8 L453.5,516.7 L454.3,506.5 L455.5,496.2 L457.1,486.0 L459.1,476.0 L461.3,466.2 L463.8,456.8 L466.6,447.8 L469.7,439.4 L473.0,431.6 L476.4,424.5 L480.0,418.2 L483.7,412.7 L487.5,408.0 L491.3,404.4 L495.2,401.7 L498.9,400.0Z M494.3,384.2 L498.5,383.5 L502.6,383.8 L506.5,385.4 L510.2,388.1 L513.7,391.9 L516.8,396.7 L519.7,402.7 L522.2,409.6 L524.4,417.3 L526.2,426.0 L527.6,435.3 L528.5,445.3 L529.0,455.9 L529.1,466.9 L528.8,478.2 L528.0,489.8 L526.8,501.4 L525.2,513.1 L523.2,524.6 L520.9,535.9 L518.1,546.9 L515.1,557.3 L511.7,567.3 L508.1,576.5 L504.3,585.0 L500.3,592.7 L496.1,599.4 L491.9,605.2 L487.5,609.9 L483.2,613.5 L478.8,616.0 L474.6,617.4 L470.4,617.6 L466.4,616.6 L462.6,614.5 L459.0,611.3 L455.7,606.9 L452.6,601.5 L449.9,595.1 L447.6,587.7 L445.6,579.5 L444.0,570.5 L442.9,560.8 L442.1,550.5 L441.8,539.7 L441.9,528.6 L442.5,517.1 L443.5,505.5 L444.9,493.8 L446.7,482.2 L448.8,470.8 L451.4,459.6 L454.3,448.9 L457.5,438.7 L461.0,429.1 L464.7,420.2 L468.6,412.1 L472.7,404.9 L476.9,398.7 L481.3,393.4 L485.6,389.2 L490.0,386.2 L494.3,384.2Z M488.8,369.6 L493.5,368.7 L498.0,369.1 L502.3,370.8 L506.5,373.8 L510.3,378.0 L513.8,383.5 L517.0,390.0 L519.8,397.7 L522.3,406.3 L524.2,415.9 L525.8,426.3 L526.8,437.4 L527.4,449.2 L527.5,461.4 L527.1,474.0 L526.3,486.8 L525.0,499.7 L523.2,512.7 L521.0,525.5 L518.3,538.0 L515.3,550.2 L511.9,561.8 L508.2,572.8 L504.2,583.1 L499.9,592.5 L495.5,601.1 L490.8,608.5 L486.1,614.9 L481.3,620.2 L476.4,624.2 L471.6,627.0 L466.9,628.5 L462.3,628.7 L457.8,627.7 L453.6,625.3 L449.6,621.7 L445.9,616.9 L442.5,610.9 L439.5,603.8 L436.9,595.6 L434.7,586.5 L433.0,576.5 L431.7,565.7 L430.9,554.3 L430.5,542.3 L430.6,529.9 L431.3,517.1 L432.3,504.2 L433.9,491.3 L435.9,478.4 L438.3,465.7 L441.2,453.3 L444.4,441.4 L447.9,430.1 L451.8,419.4 L455.9,409.5 L460.3,400.6 L464.9,392.6 L469.5,385.6 L474.3,379.8 L479.2,375.1 L484.0,371.7 L488.8,369.6Z M482.5,356.1 L487.6,355.2 L492.6,355.7 L497.3,357.5 L501.8,360.8 L506.0,365.4 L509.8,371.3 L513.3,378.4 L516.4,386.8 L519.0,396.2 L521.1,406.6 L522.8,417.9 L524.0,430.0 L524.6,442.8 L524.7,456.1 L524.3,469.8 L523.4,483.8 L521.9,497.9 L520.0,512.0 L517.6,525.9 L514.7,539.5 L511.4,552.8 L507.7,565.4 L503.7,577.4 L499.3,588.6 L494.7,598.9 L489.8,608.1 L484.8,616.3 L479.6,623.3 L474.4,629.0 L469.1,633.4 L463.9,636.4 L458.7,638.0 L453.7,638.3 L448.9,637.1 L444.2,634.6 L439.9,630.6 L435.9,625.4 L432.2,618.8 L428.9,611.1 L426.1,602.2 L423.7,592.3 L421.8,581.4 L420.4,569.7 L419.5,557.2 L419.1,544.2 L419.3,530.6 L419.9,516.8 L421.1,502.7 L422.8,488.6 L425.0,474.6 L427.6,460.8 L430.7,447.3 L434.2,434.4 L438.1,422.0 L442.3,410.4 L446.8,399.7 L451.5,389.9 L456.5,381.2 L461.6,373.6 L466.8,367.3 L472.1,362.2 L477.3,358.5 L482.5,356.1Z M475.6,344.1 L481.1,343.1 L486.4,343.6 L491.4,345.6 L496.2,349.1 L500.7,354.0 L504.8,360.3 L508.6,368.0 L511.8,376.9 L514.6,387.0 L516.9,398.1 L518.7,410.2 L520.0,423.2 L520.6,436.8 L520.8,451.1 L520.3,465.8 L519.3,480.7 L517.8,495.8 L515.7,510.9 L513.1,525.8 L510.1,540.4 L506.5,554.6 L502.6,568.2 L498.3,581.0 L493.6,593.0 L488.6,604.0 L483.4,613.9 L478.0,622.6 L472.5,630.0 L466.9,636.1 L461.3,640.8 L455.7,644.1 L450.1,645.9 L444.7,646.1 L439.6,644.9 L434.6,642.1 L430.0,637.9 L425.7,632.3 L421.7,625.3 L418.2,617.0 L415.2,607.5 L412.6,596.9 L410.6,585.2 L409.1,572.7 L408.1,559.3 L407.7,545.4 L407.9,530.9 L408.6,516.1 L409.9,501.0 L411.7,485.9 L414.0,470.9 L416.8,456.1 L420.2,441.7 L423.9,427.8 L428.0,414.6 L432.5,402.2 L437.4,390.7 L442.4,380.2 L447.7,370.9 L453.2,362.8 L458.8,356.0 L464.4,350.6 L470.0,346.6 L475.6,344.1Z M468.1,333.6 L473.9,332.5 L479.4,333.0 L484.8,335.1 L489.9,338.8 L494.6,344.0 L498.9,350.7 L502.8,358.7 L506.3,368.1 L509.3,378.8 L511.7,390.6 L513.6,403.3 L514.9,417.0 L515.6,431.4 L515.7,446.4 L515.3,461.9 L514.2,477.7 L512.6,493.6 L510.4,509.5 L507.7,525.3 L504.4,540.7 L500.7,555.6 L496.5,569.9 L492.0,583.5 L487.1,596.1 L481.8,607.7 L476.3,618.1 L470.6,627.3 L464.8,635.2 L458.9,641.6 L453.0,646.6 L447.0,650.0 L441.2,651.9 L435.5,652.2 L430.1,650.9 L424.9,648.0 L420.0,643.5 L415.4,637.6 L411.3,630.2 L407.6,621.5 L404.4,611.4 L401.7,600.2 L399.5,587.9 L397.9,574.7 L396.9,560.6 L396.5,545.9 L396.6,530.6 L397.4,515.0 L398.7,499.1 L400.7,483.2 L403.1,467.3 L406.1,451.7 L409.6,436.5 L413.5,421.9 L417.9,408.0 L422.7,394.9 L427.7,382.7 L433.1,371.7 L438.7,361.8 L444.5,353.3 L450.3,346.1 L456.3,340.4 L462.2,336.2 L468.1,333.6Z M460.1,324.7 L466.1,323.6 L471.9,324.1 L477.4,326.3 L482.7,330.1 L487.6,335.5 L492.2,342.5 L496.2,350.9 L499.8,360.7 L502.9,371.8 L505.4,384.0 L507.4,397.3 L508.8,411.5 L509.5,426.5 L509.6,442.2 L509.2,458.3 L508.1,474.7 L506.4,491.3 L504.1,507.9 L501.3,524.2 L497.9,540.3 L494.0,555.8 L489.7,570.7 L484.9,584.8 L479.8,598.0 L474.3,610.0 L468.6,620.9 L462.7,630.5 L456.6,638.7 L450.5,645.4 L444.3,650.6 L438.1,654.1 L432.1,656.1 L426.2,656.4 L420.5,655.0 L415.0,652.0 L409.9,647.4 L405.2,641.2 L400.9,633.5 L397.1,624.4 L393.7,613.9 L390.9,602.3 L388.7,589.5 L387.0,575.7 L385.9,561.1 L385.5,545.7 L385.7,529.8 L386.5,513.5 L387.9,497.0 L389.8,480.4 L392.4,463.9 L395.5,447.7 L399.1,431.9 L403.3,416.6 L407.8,402.1 L412.8,388.5 L418.0,375.8 L423.6,364.4 L429.5,354.1 L435.5,345.2 L441.6,337.8 L447.8,331.8 L453.9,327.4 L460.1,324.7Z M451.6,317.5 L457.8,316.4 L463.7,316.9 L469.5,319.2 L474.9,323.1 L479.9,328.7 L484.6,335.8 L488.8,344.5 L492.5,354.5 L495.7,365.9 L498.3,378.5 L500.3,392.2 L501.7,406.8 L502.4,422.3 L502.6,438.4 L502.1,454.9 L501.0,471.8 L499.2,488.9 L496.9,505.9 L494.0,522.8 L490.5,539.3 L486.5,555.3 L482.0,570.6 L477.2,585.1 L471.9,598.6 L466.3,611.0 L460.4,622.2 L454.3,632.1 L448.1,640.5 L441.7,647.4 L435.4,652.7 L429.0,656.4 L422.8,658.3 L416.7,658.6 L410.9,657.2 L405.3,654.1 L400.0,649.4 L395.2,643.0 L390.7,635.1 L386.8,625.8 L383.3,615.0 L380.5,603.0 L378.2,589.9 L376.4,575.7 L375.4,560.6 L374.9,544.9 L375.1,528.5 L375.9,511.8 L377.3,494.8 L379.4,477.7 L382.0,460.7 L385.2,444.0 L388.9,427.8 L393.2,412.1 L397.9,397.2 L402.9,383.1 L408.4,370.1 L414.1,358.3 L420.1,347.8 L426.3,338.6 L432.6,331.0 L438.9,324.9 L445.3,320.4 L451.6,317.5Z M442.8,312.2 L449.1,311.0 L455.1,311.6 L461.0,313.9 L466.5,317.9 L471.6,323.5 L476.3,330.8 L480.6,339.6 L484.4,349.8 L487.6,361.4 L490.2,374.2 L492.3,388.1 L493.7,403.0 L494.5,418.7 L494.6,435.0 L494.1,451.9 L493.0,469.0 L491.2,486.4 L488.8,503.7 L485.9,520.8 L482.3,537.6 L478.3,553.9 L473.7,569.5 L468.8,584.2 L463.4,597.9 L457.7,610.6 L451.7,622.0 L445.6,632.0 L439.2,640.5 L432.8,647.5 L426.3,652.9 L419.9,656.7 L413.5,658.7 L407.3,659.0 L401.4,657.6 L395.7,654.4 L390.4,649.6 L385.4,643.1 L380.9,635.1 L376.9,625.6 L373.4,614.6 L370.5,602.4 L368.1,589.1 L366.4,574.6 L365.3,559.3 L364.8,543.3 L365.0,526.7 L365.8,509.6 L367.3,492.4 L369.4,475.0 L372.0,457.8 L375.3,440.8 L379.1,424.2 L383.4,408.3 L388.1,393.1 L393.3,378.9 L398.8,365.7 L404.7,353.6 L410.8,342.9 L417.1,333.6 L423.5,325.8 L429.9,319.6 L436.4,315.1 L442.8,312.2Z M433.7,308.7 L440.0,307.5 L446.1,308.1 L452.0,310.4 L457.5,314.4 L462.7,320.1 L467.5,327.4 L471.8,336.2 L475.5,346.5 L478.8,358.2 L481.4,371.0 L483.5,385.0 L484.9,400.0 L485.7,415.8 L485.9,432.2 L485.4,449.1 L484.2,466.4 L482.4,483.9 L480.0,501.3 L477.0,518.5 L473.5,535.4 L469.4,551.7 L464.9,567.4 L459.9,582.2 L454.5,596.0 L448.7,608.7 L442.7,620.2 L436.5,630.2 L430.1,638.9 L423.7,645.9 L417.1,651.3 L410.7,655.1 L404.3,657.1 L398.1,657.4 L392.1,656.0 L386.4,652.8 L381.0,648.0 L376.0,641.5 L371.5,633.4 L367.5,623.8 L364.0,612.8 L361.0,600.5 L358.7,587.1 L356.9,572.6 L355.8,557.2 L355.3,541.1 L355.5,524.4 L356.3,507.2 L357.8,489.9 L359.9,472.4 L362.6,455.1 L365.9,438.0 L369.7,421.4 L374.0,405.3 L378.8,390.1 L384.0,375.8 L389.6,362.5 L395.4,350.4 L401.5,339.6 L407.9,330.3 L414.3,322.4 L420.8,316.2 L427.3,311.6 L433.7,308.7Z M424.5,307.1 L430.8,305.9 L436.9,306.5 L442.7,308.8 L448.2,312.8 L453.4,318.4 L458.1,325.7 L462.4,334.5 L466.1,344.7 L469.3,356.3 L472.0,369.1 L474.0,383.0 L475.5,397.9 L476.2,413.6 L476.4,429.9 L475.9,446.8 L474.7,464.0 L473.0,481.3 L470.6,498.6 L467.6,515.8 L464.1,532.6 L460.0,548.8 L455.5,564.4 L450.5,579.1 L445.2,592.9 L439.5,605.5 L433.5,616.9 L427.3,626.9 L421.0,635.5 L414.5,642.5 L408.0,647.9 L401.6,651.6 L395.3,653.6 L389.1,653.9 L383.1,652.5 L377.5,649.3 L372.1,644.5 L367.2,638.1 L362.7,630.0 L358.6,620.5 L355.1,609.6 L352.2,597.4 L349.9,584.0 L348.1,569.6 L347.0,554.3 L346.6,538.2 L346.7,521.6 L347.6,504.6 L349.0,487.3 L351.1,469.9 L353.8,452.7 L357.0,435.7 L360.8,419.2 L365.1,403.2 L369.9,388.1 L375.1,373.8 L380.6,360.6 L386.4,348.6 L392.5,337.9 L398.8,328.6 L405.2,320.8 L411.7,314.6 L418.1,310.0 L424.5,307.1Z M415.3,307.4 L421.5,306.3 L427.4,306.8 L433.2,309.1 L438.6,313.0 L443.6,318.6 L448.3,325.7 L452.5,334.4 L456.2,344.4 L459.4,355.8 L462.0,368.4 L464.0,382.1 L465.4,396.7 L466.1,412.2 L466.3,428.3 L465.8,444.8 L464.7,461.7 L462.9,478.8 L460.6,495.8 L457.7,512.7 L454.2,529.2 L450.2,545.2 L445.7,560.5 L440.9,575.0 L435.6,588.5 L430.0,600.9 L424.1,612.1 L418.0,622.0 L411.8,630.4 L405.4,637.3 L399.1,642.6 L392.7,646.3 L386.5,648.3 L380.4,648.5 L374.6,647.1 L369.0,644.0 L363.7,639.3 L358.9,632.9 L354.4,625.0 L350.5,615.7 L347.0,604.9 L344.2,592.9 L341.9,579.8 L340.1,565.6 L339.1,550.5 L338.6,534.8 L338.8,518.4 L339.6,501.7 L341.0,484.7 L343.1,467.6 L345.7,450.6 L348.9,433.9 L352.6,417.7 L356.9,402.0 L361.5,387.1 L366.6,373.0 L372.1,360.0 L377.8,348.2 L383.8,337.7 L390.0,328.5 L396.3,320.9 L402.6,314.8 L409.0,310.3 L415.3,307.4Z M406.1,309.7 L412.1,308.6 L417.9,309.1 L423.5,311.3 L428.8,315.1 L433.7,320.5 L438.2,327.5 L442.3,335.9 L445.9,345.7 L449.0,356.7 L451.5,369.0 L453.4,382.3 L454.8,396.5 L455.6,411.5 L455.7,427.2 L455.2,443.3 L454.1,459.7 L452.4,476.3 L450.1,492.9 L447.3,509.2 L443.9,525.3 L440.1,540.8 L435.7,555.7 L431.0,569.8 L425.8,583.0 L420.4,595.0 L414.7,605.9 L408.8,615.5 L402.7,623.7 L396.5,630.4 L390.3,635.6 L384.2,639.1 L378.1,641.1 L372.2,641.4 L366.5,640.0 L361.1,637.0 L356.0,632.4 L351.3,626.2 L346.9,618.5 L343.1,609.4 L339.8,598.9 L336.9,587.3 L334.7,574.5 L333.0,560.7 L332.0,546.1 L331.5,530.7 L331.7,514.8 L332.5,498.5 L333.9,482.0 L335.9,465.4 L338.5,448.9 L341.6,432.7 L345.2,416.9 L349.3,401.6 L353.9,387.1 L358.8,373.5 L364.1,360.8 L369.7,349.4 L375.5,339.1 L381.5,330.2 L387.6,322.8 L393.8,316.8 L400.0,312.4 L406.1,309.7Z M397.1,313.8 L402.8,312.8 L408.4,313.3 L413.8,315.4 L418.8,319.1 L423.6,324.3 L427.9,330.9 L431.8,339.0 L435.3,348.4 L438.2,359.0 L440.7,370.8 L442.6,383.6 L443.9,397.3 L444.6,411.7 L444.7,426.7 L444.2,442.2 L443.2,457.9 L441.6,473.9 L439.4,489.8 L436.7,505.5 L433.4,520.9 L429.7,535.9 L425.5,550.2 L421.0,563.7 L416.0,576.3 L410.8,587.9 L405.3,598.4 L399.6,607.6 L393.8,615.5 L387.9,621.9 L381.9,626.9 L376.0,630.3 L370.2,632.1 L364.5,632.4 L359.1,631.1 L353.8,628.2 L348.9,623.8 L344.4,617.8 L340.3,610.5 L336.6,601.7 L333.4,591.7 L330.7,580.5 L328.5,568.2 L326.9,554.9 L325.9,540.9 L325.5,526.1 L325.6,510.9 L326.4,495.2 L327.7,479.4 L329.6,463.4 L332.1,447.6 L335.1,432.0 L338.6,416.8 L342.5,402.1 L346.9,388.2 L351.6,375.1 L356.7,363.0 L362.1,351.9 L367.7,342.1 L373.5,333.6 L379.3,326.4 L385.3,320.7 L391.2,316.5 L397.1,313.8Z M388.3,319.8 L393.8,318.8 L399.1,319.3 L404.1,321.3 L408.9,324.8 L413.4,329.7 L417.5,336.0 L421.3,343.7 L424.5,352.6 L427.3,362.7 L429.6,373.8 L431.4,386.0 L432.7,398.9 L433.3,412.6 L433.5,426.8 L433.0,441.5 L432.0,456.4 L430.5,471.5 L428.4,486.6 L425.8,501.5 L422.8,516.2 L419.2,530.3 L415.3,543.9 L411.0,556.7 L406.3,568.7 L401.3,579.7 L396.1,589.6 L390.7,598.3 L385.2,605.8 L379.6,611.9 L374.0,616.6 L368.4,619.8 L362.8,621.6 L357.5,621.8 L352.3,620.6 L347.3,617.9 L342.7,613.7 L338.4,608.0 L334.4,601.0 L330.9,592.7 L327.9,583.2 L325.3,572.6 L323.3,560.9 L321.8,548.4 L320.8,535.1 L320.4,521.1 L320.6,506.6 L321.3,491.8 L322.6,476.7 L324.4,461.6 L326.7,446.6 L329.5,431.8 L332.9,417.4 L336.6,403.5 L340.7,390.3 L345.2,377.9 L350.1,366.4 L355.1,356.0 L360.4,346.6 L365.9,338.5 L371.5,331.7 L377.1,326.3 L382.8,322.3 L388.3,319.8Z M379.9,327.6 L385.0,326.7 L390.0,327.1 L394.7,329.0 L399.2,332.2 L403.4,336.8 L407.2,342.7 L410.7,349.9 L413.7,358.2 L416.4,367.6 L418.5,378.1 L420.2,389.4 L421.3,401.5 L422.0,414.2 L422.1,427.5 L421.7,441.3 L420.7,455.2 L419.3,469.3 L417.4,483.4 L414.9,497.4 L412.1,511.0 L408.8,524.2 L405.1,536.9 L401.1,548.9 L396.7,560.1 L392.1,570.4 L387.2,579.6 L382.2,587.8 L377.0,594.7 L371.8,600.4 L366.5,604.8 L361.3,607.9 L356.1,609.5 L351.1,609.7 L346.2,608.6 L341.6,606.0 L337.3,602.1 L333.2,596.8 L329.6,590.3 L326.3,582.5 L323.5,573.7 L321.1,563.7 L319.2,552.8 L317.8,541.1 L316.9,528.7 L316.5,515.6 L316.6,502.1 L317.3,488.3 L318.5,474.2 L320.2,460.1 L322.4,446.0 L325.0,432.2 L328.1,418.8 L331.6,405.8 L335.5,393.5 L339.7,381.9 L344.2,371.1 L348.9,361.4 L353.9,352.6 L359.0,345.1 L364.2,338.7 L369.4,333.7 L374.7,330.0 L379.9,327.6Z M371.9,337.1 L376.6,336.2 L381.2,336.6 L385.5,338.4 L389.6,341.3 L393.5,345.6 L397.0,351.0 L400.2,357.6 L403.0,365.2 L405.4,373.9 L407.4,383.4 L408.9,393.8 L410.0,404.9 L410.6,416.7 L410.7,428.9 L410.3,441.5 L409.5,454.3 L408.1,467.3 L406.3,480.2 L404.1,493.0 L401.5,505.6 L398.5,517.7 L395.1,529.3 L391.4,540.4 L387.4,550.6 L383.1,560.1 L378.6,568.6 L374.0,576.1 L369.3,582.4 L364.5,587.7 L359.6,591.7 L354.8,594.5 L350.1,596.0 L345.5,596.2 L341.0,595.2 L336.8,592.8 L332.8,589.2 L329.1,584.4 L325.7,578.4 L322.7,571.3 L320.1,563.1 L317.9,554.0 L316.1,544.0 L314.9,533.2 L314.0,521.8 L313.7,509.8 L313.8,497.4 L314.4,484.6 L315.5,471.7 L317.1,458.8 L319.1,445.9 L321.5,433.2 L324.3,420.8 L327.6,408.9 L331.1,397.6 L335.0,386.9 L339.1,377.1 L343.5,368.1 L348.0,360.1 L352.7,353.1 L357.5,347.3 L362.3,342.7 L367.2,339.2 L371.9,337.1Z M364.5,348.2 L368.7,347.4 L372.8,347.8 L376.7,349.3 L380.4,352.0 L383.9,355.8 L387.1,360.7 L390.0,366.6 L392.5,373.5 L394.7,381.3 L396.4,389.9 L397.8,399.2 L398.8,409.3 L399.3,419.8 L399.4,430.8 L399.1,442.1 L398.3,453.7 L397.1,465.4 L395.5,477.0 L393.5,488.6 L391.1,499.8 L388.4,510.8 L385.3,521.3 L382.0,531.2 L378.4,540.4 L374.6,548.9 L370.5,556.6 L366.4,563.3 L362.1,569.1 L357.8,573.8 L353.4,577.4 L349.1,579.9 L344.8,581.3 L340.7,581.5 L336.7,580.5 L332.8,578.4 L329.2,575.2 L325.9,570.8 L322.9,565.4 L320.2,559.0 L317.8,551.7 L315.9,543.4 L314.3,534.4 L313.1,524.7 L312.4,514.5 L312.1,503.7 L312.2,492.5 L312.7,481.0 L313.7,469.4 L315.1,457.7 L316.9,446.1 L319.1,434.7 L321.7,423.6 L324.5,412.8 L327.7,402.6 L331.2,393.0 L334.9,384.1 L338.9,376.1 L343.0,368.9 L347.2,362.6 L351.5,357.3 L355.9,353.2 L360.2,350.1 L364.5,348.2Z M357.7,360.7 L361.4,360.0 L365.0,360.3 L368.4,361.7 L371.7,364.1 L374.7,367.4 L377.5,371.7 L380.0,376.9 L382.3,382.9 L384.2,389.8 L385.7,397.4 L386.9,405.6 L387.8,414.4 L388.3,423.6 L388.3,433.3 L388.0,443.3 L387.4,453.4 L386.3,463.7 L384.9,473.9 L383.1,484.0 L381.1,493.9 L378.7,503.6 L376.0,512.8 L373.1,521.5 L369.9,529.6 L366.5,537.1 L363.0,543.8 L359.3,549.7 L355.6,554.8 L351.8,558.9 L347.9,562.1 L344.1,564.3 L340.4,565.5 L336.7,565.7 L333.2,564.8 L329.9,563.0 L326.7,560.1 L323.8,556.3 L321.1,551.5 L318.7,545.9 L316.7,539.5 L314.9,532.2 L313.6,524.3 L312.5,515.8 L311.9,506.8 L311.6,497.3 L311.7,487.5 L312.2,477.4 L313.1,467.2 L314.3,456.9 L315.9,446.7 L317.8,436.7 L320.0,426.9 L322.6,417.5 L325.4,408.5 L328.5,400.1 L331.7,392.3 L335.2,385.2 L338.8,378.9 L342.5,373.4 L346.3,368.8 L350.1,365.1 L353.9,362.4 L357.7,360.7Z M351.6,374.6 L354.7,374.0 L357.8,374.3 L360.7,375.4 L363.5,377.4 L366.1,380.3 L368.4,383.9 L370.6,388.3 L372.5,393.5 L374.1,399.3 L375.4,405.8 L376.4,412.7 L377.2,420.2 L377.6,428.1 L377.6,436.3 L377.4,444.8 L376.8,453.4 L375.9,462.2 L374.7,470.9 L373.2,479.5 L371.4,487.9 L369.4,496.1 L367.1,503.9 L364.6,511.3 L361.9,518.2 L359.1,524.6 L356.1,530.3 L353.0,535.3 L349.8,539.7 L346.5,543.2 L343.3,545.9 L340.0,547.8 L336.8,548.8 L333.7,548.9 L330.7,548.2 L327.9,546.6 L325.2,544.2 L322.7,541.0 L320.5,536.9 L318.4,532.1 L316.7,526.6 L315.2,520.5 L314.0,513.8 L313.2,506.5 L312.6,498.8 L312.4,490.8 L312.5,482.4 L312.9,473.9 L313.6,465.2 L314.6,456.4 L316.0,447.8 L317.6,439.2 L319.5,430.9 L321.7,422.9 L324.1,415.3 L326.7,408.1 L329.5,401.5 L332.4,395.4 L335.5,390.0 L338.6,385.4 L341.8,381.4 L345.1,378.3 L348.3,376.0 L351.6,374.6Z M346.2,389.6 L348.8,389.2 L351.2,389.4 L353.6,390.3 L355.9,392.0 L358.0,394.3 L359.9,397.2 L361.7,400.8 L363.2,405.0 L364.5,409.8 L365.6,415.0 L366.4,420.7 L367.0,426.8 L367.3,433.2 L367.4,439.9 L367.2,446.8 L366.7,453.8 L366.0,460.9 L365.0,468.0 L363.8,475.0 L362.4,481.8 L360.7,488.5 L358.9,494.9 L356.8,500.9 L354.6,506.5 L352.3,511.7 L349.9,516.3 L347.3,520.4 L344.7,523.9 L342.1,526.8 L339.4,529.0 L336.8,530.5 L334.2,531.3 L331.7,531.5 L329.3,530.9 L326.9,529.6 L324.8,527.6 L322.7,525.0 L320.9,521.7 L319.2,517.8 L317.8,513.3 L316.6,508.3 L315.7,502.9 L314.9,497.0 L314.5,490.7 L314.3,484.2 L314.4,477.4 L314.7,470.4 L315.3,463.3 L316.2,456.2 L317.3,449.2 L318.6,442.2 L320.1,435.5 L321.9,428.9 L323.8,422.7 L326.0,416.9 L328.2,411.5 L330.6,406.6 L333.1,402.2 L335.7,398.4 L338.3,395.2 L340.9,392.7 L343.6,390.8 L346.2,389.6Z M341.6,405.7 L343.6,405.3 L345.5,405.5 L347.3,406.2 L349.0,407.5 L350.6,409.2 L352.1,411.5 L353.4,414.2 L354.6,417.4 L355.6,421.0 L356.4,425.0 L357.0,429.3 L357.5,433.9 L357.7,438.8 L357.7,443.9 L357.6,449.1 L357.2,454.4 L356.7,459.8 L355.9,465.2 L355.0,470.5 L353.9,475.8 L352.7,480.8 L351.3,485.6 L349.7,490.2 L348.0,494.5 L346.3,498.4 L344.4,502.0 L342.5,505.1 L340.5,507.7 L338.5,509.9 L336.5,511.6 L334.5,512.7 L332.5,513.4 L330.6,513.5 L328.8,513.0 L327.0,512.0 L325.3,510.5 L323.8,508.5 L322.4,506.0 L321.2,503.1 L320.1,499.7 L319.2,495.9 L318.4,491.7 L317.9,487.3 L317.5,482.5 L317.4,477.5 L317.5,472.4 L317.7,467.1 L318.2,461.7 L318.8,456.3 L319.7,450.9 L320.7,445.7 L321.8,440.5 L323.2,435.6 L324.7,430.9 L326.3,426.4 L328.0,422.3 L329.8,418.6 L331.7,415.3 L333.6,412.4 L335.6,409.9 L337.6,408.0 L339.6,406.6 L341.6,405.7Z M337.9,422.6 L339.3,422.4 L340.5,422.5 L341.7,423.0 L342.9,423.8 L344.0,425.0 L345.0,426.5 L345.8,428.3 L346.6,430.5 L347.3,432.9 L347.9,435.6 L348.3,438.5 L348.6,441.6 L348.7,444.9 L348.8,448.3 L348.7,451.8 L348.4,455.4 L348.1,459.0 L347.6,462.7 L346.9,466.2 L346.2,469.8 L345.4,473.1 L344.4,476.4 L343.4,479.5 L342.3,482.4 L341.1,485.0 L339.8,487.4 L338.5,489.5 L337.2,491.3 L335.8,492.7 L334.5,493.9 L333.1,494.6 L331.8,495.1 L330.5,495.1 L329.3,494.8 L328.1,494.2 L327.0,493.2 L325.9,491.8 L325.0,490.1 L324.2,488.1 L323.4,485.9 L322.8,483.3 L322.3,480.5 L322.0,477.5 L321.7,474.3 L321.6,470.9 L321.7,467.5 L321.8,463.9 L322.2,460.3 L322.6,456.7 L323.1,453.1 L323.8,449.5 L324.6,446.0 L325.5,442.7 L326.5,439.5 L327.6,436.6 L328.8,433.8 L330.0,431.3 L331.2,429.0 L332.6,427.1 L333.9,425.5 L335.3,424.2 L336.6,423.2 L337.9,422.6Z M335.2,440.2 L335.8,440.1 L336.5,440.1 L337.1,440.4 L337.6,440.8 L338.2,441.4 L338.7,442.1 L339.1,443.1 L339.5,444.1 L339.9,445.4 L340.1,446.7 L340.4,448.2 L340.5,449.7 L340.6,451.4 L340.6,453.1 L340.5,454.9 L340.4,456.7 L340.2,458.5 L340.0,460.3 L339.7,462.1 L339.3,463.9 L338.9,465.6 L338.4,467.2 L337.9,468.8 L337.3,470.2 L336.7,471.6 L336.1,472.7 L335.4,473.8 L334.8,474.7 L334.1,475.4 L333.4,476.0 L332.7,476.4 L332.1,476.6 L331.4,476.6 L330.8,476.5 L330.2,476.2 L329.6,475.7 L329.1,475.0 L328.7,474.1 L328.2,473.1 L327.9,472.0 L327.6,470.7 L327.3,469.3 L327.1,467.8 L327.0,466.2 L327.0,464.5 L327.0,462.7 L327.1,460.9 L327.2,459.1 L327.4,457.3 L327.7,455.5 L328.1,453.7 L328.5,452.0 L328.9,450.3 L329.4,448.7 L330.0,447.2 L330.5,445.8 L331.1,444.5 L331.8,443.4 L332.4,442.4 L333.1,441.6 L333.8,441.0 L334.5,440.5 L335.2,440.2Z" fill="none" stroke="#383838" stroke-opacity="0.2" stroke-width="0.8"/>
<ellipse cx="420.60" cy="482.50" rx="108.50" ry="177.00" transform="rotate(4.32 420.60 482.50)" fill="none" stroke="#5a6a6a" stroke-opacity="0.45" stroke-width="1"/>
<circle cx="427.8" cy="151.1" r="2.95" fill="#0c0c0c"/>
<circle cx="404.4" cy="219.0" r="2.95" fill="#0f1c1e"/>
<circle cx="313.8" cy="242.4" r="2.95" fill="#0c0c0c"/>
<circle cx="355.1" cy="263.3" r="2.95" fill="#0f1c1e"/>
<circle cx="265.6" cy="283.5" r="2.95" fill="#0c0c0c"/>
<circle cx="273.5" cy="289.1" r="2.95" fill="#0f1c1e"/>
<circle cx="321.8" cy="282.5" r="2.95" fill="#0c2729"/>
<circle cx="333.7" cy="280.3" r="2.95" fill="#0f1c1e"/>
<circle cx="327.5" cy="299.2" r="2.95" fill="#0f1c1e"/>
<circle cx="486.8" cy="134.4" r="2.95" fill="#0c0c0c"/>
<circle cx="494.0" cy="198.5" r="2.95" fill="#0f1c1e"/>
<circle cx="588.1" cy="232.7" r="2.95" fill="#0c0c0c"/>
<circle cx="477.7" cy="254.3" r="2.95" fill="#0c2729"/>
<circle cx="513.2" cy="257.9" r="2.95" fill="#0f1c1e"/>
<circle cx="530.1" cy="258.9" r="2.95" fill="#0f1c1e"/>
<circle cx="453.8" cy="277.4" r="2.95" fill="#0f1c1e"/>
<circle cx="469.3" cy="284.1" r="2.95" fill="#0f1c1e"/>
<circle cx="468.5" cy="292.3" r="2.95" fill="#0f1c1e"/>
<circle cx="511.2" cy="283.5" r="2.95" fill="#0f1c1e"/>
<circle cx="533.3" cy="284.5" r="2.95" fill="#0f1c1e"/>
<circle cx="519.2" cy="294.4" r="2.95" fill="#0f1c1e"/>
<circle cx="295.2" cy="309.5" r="2.95" fill="#0f1c1e"/>
<circle cx="375.8" cy="308.7" r="2.95" fill="#0f1c1e"/>
<circle cx="278.5" cy="327.7" r="2.95" fill="#0f1c1e"/>
<circle cx="337.1" cy="330.7" r="2.95" fill="#0f1c1e"/>
<circle cx="315.8" cy="338.7" r="2.95" fill="#0f1c1e"/>
<circle cx="361.1" cy="337.7" r="2.95" fill="#0f1c1e"/>
<circle cx="307.7" cy="357.5" r="2.95" fill="#0f1c1e"/>
<circle cx="325.5" cy="355.5" r="2.95" fill="#0f1c1e"/>
<circle cx="297.1" cy="364.5" r="2.95" fill="#0f1c1e"/>
<circle cx="324.0" cy="366.1" r="2.95" fill="#0f1c1e"/>
<circle cx="328.9" cy="368.5" r="2.95" fill="#0f1c1e"/>
<circle cx="333.9" cy="374.6" r="2.95" fill="#0f1c1e"/>
<circle cx="289.6" cy="376.6" r="2.95" fill="#0f1c1e"/>
<circle cx="285.6" cy="389.7" r="2.95" fill="#0f1c1e"/>
<circle cx="308.9" cy="389.3" r="2.95" fill="#0f1c1e"/>
<circle cx="291.8" cy="403.4" r="2.95" fill="#0f1c1e"/>
<circle cx="307.9" cy="410.6" r="2.95" fill="#0f1c1e"/>
<circle cx="312.0" cy="418.1" r="2.95" fill="#0f1c1e"/>
<circle cx="280.1" cy="420.9" r="2.95" fill="#0f1c1e"/>
<circle cx="319.0" cy="422.5" r="2.95" fill="#0f1c1e"/>
<circle cx="325.5" cy="427.0" r="2.95" fill="#0f1c1e"/>
<circle cx="332.1" cy="417.3" r="2.95" fill="#0c2729"/>
<circle cx="332.1" cy="428.0" r="2.95" fill="#0f1c1e"/>
<circle cx="364.1" cy="377.6" r="2.95" fill="#0c2729"/>
<circle cx="358.3" cy="383.7" r="2.95" fill="#0c2729"/>
<circle cx="361.7" cy="389.3" r="2.95" fill="#0c2729"/>
<circle cx="366.3" cy="387.1" r="2.95" fill="#0c2729"/>
<circle cx="420.1" cy="343.4" r="2.95" fill="#0c2729"/>
<circle cx="424.8" cy="357.1" r="2.95" fill="#0c2729"/>
<circle cx="416.7" cy="367.9" r="2.95" fill="#0c2729"/>
<circle cx="421.1" cy="397.4" r="2.95" fill="#0c2729"/>
<circle cx="406.0" cy="423.3" r="2.95" fill="#0c2729"/>
<circle cx="408.0" cy="429.0" r="2.95" fill="#0c2729"/>
<circle cx="412.5" cy="440.5" r="2.95" fill="#0c2729"/>
<circle cx="385.1" cy="445.5" r="2.95" fill="#0c2729"/>
<circle cx="333.9" cy="455.6" r="2.95" fill="#0c2729"/>
<circle cx="427.2" cy="304.1" r="2.95" fill="#0f1c1e"/>
<circle cx="428.2" cy="388.7" r="2.95" fill="#0c2729"/>
<circle cx="379.2" cy="337.7" r="2.95" fill="#3a2425"/>
<circle cx="385.3" cy="338.3" r="2.95" fill="#3a2425"/>
<circle cx="376.2" cy="344.8" r="2.95" fill="#3a2425"/>
<circle cx="389.5" cy="343.4" r="2.95" fill="#3a2425"/>
<circle cx="393.9" cy="352.0" r="2.95" fill="#3a2425"/>
<circle cx="420.7" cy="333.9" r="2.95" fill="#3a2425"/>
<circle cx="422.5" cy="377.0" r="2.95" fill="#3a2425"/>
<circle cx="423.1" cy="391.7" r="2.95" fill="#3a2425"/>
<circle cx="379.2" cy="396.3" r="2.95" fill="#3a2425"/>
<circle cx="400.6" cy="396.1" r="2.95" fill="#3a2425"/>
<circle cx="366.1" cy="408.2" r="2.95" fill="#3a2425"/>
<circle cx="379.8" cy="406.2" r="2.95" fill="#3a2425"/>
<circle cx="368.2" cy="416.5" r="2.95" fill="#3a2425"/>
<circle cx="420.7" cy="407.8" r="2.95" fill="#3a2425"/>
<circle cx="379.8" cy="427.6" r="2.95" fill="#3a2425"/>
<circle cx="349.0" cy="429.6" r="2.95" fill="#3a2425"/>
<circle cx="356.7" cy="429.4" r="2.95" fill="#3a2425"/>
<circle cx="364.3" cy="433.0" r="2.95" fill="#3a2425"/>
<circle cx="338.1" cy="434.0" r="2.95" fill="#3a2425"/>
<circle cx="337.5" cy="439.6" r="2.95" fill="#3a2425"/>
<circle cx="351.6" cy="439.0" r="2.95" fill="#3a2425"/>
<circle cx="336.5" cy="447.3" r="2.95" fill="#3a2425"/>
<circle cx="395.3" cy="433.0" r="2.95" fill="#3a2425"/>
<circle cx="402.0" cy="433.0" r="2.95" fill="#3a2425"/>
<circle cx="403.0" cy="427.6" r="2.95" fill="#3a2425"/>
<circle cx="393.9" cy="446.7" r="2.95" fill="#3a2425"/>
<circle cx="409.4" cy="454.1" r="2.95" fill="#3a2425"/>
<circle cx="416.5" cy="443.1" r="2.95" fill="#3a2425"/>
<circle cx="426.8" cy="424.3" r="2.95" fill="#3a2425"/>
<circle cx="507.6" cy="314.8" r="2.95" fill="#0f1c1e"/>
<circle cx="588.8" cy="329.7" r="2.95" fill="#0c0c0c"/>
<circle cx="438.7" cy="309.5" r="2.95" fill="#0c2729"/>
<circle cx="472.8" cy="334.7" r="2.95" fill="#0c2729"/>
<circle cx="456.9" cy="344.0" r="2.95" fill="#0c2729"/>
<circle cx="488.9" cy="342.0" r="2.95" fill="#0f1c1e"/>
<circle cx="493.5" cy="342.0" r="2.95" fill="#0f1c1e"/>
<circle cx="498.5" cy="339.3" r="2.95" fill="#0f1c1e"/>
<circle cx="527.8" cy="346.8" r="2.95" fill="#0f1c1e"/>
<circle cx="522.1" cy="352.4" r="2.95" fill="#0f1c1e"/>
<circle cx="523.7" cy="361.1" r="2.95" fill="#0f1c1e"/>
<circle cx="532.8" cy="365.9" r="2.95" fill="#0f1c1e"/>
<circle cx="518.7" cy="375.0" r="2.95" fill="#0f1c1e"/>
<circle cx="569.6" cy="381.6" r="2.95" fill="#0f1c1e"/>
<circle cx="546.1" cy="389.7" r="2.95" fill="#0f1c1e"/>
<circle cx="532.2" cy="393.1" r="2.95" fill="#0c2729"/>
<circle cx="524.1" cy="417.5" r="2.95" fill="#0f1c1e"/>
<circle cx="539.8" cy="444.7" r="2.95" fill="#0f1c1e"/>
<circle cx="518.7" cy="454.1" r="2.95" fill="#0f1c1e"/>
<circle cx="528.8" cy="454.1" r="2.95" fill="#0f1c1e"/>
<circle cx="465.7" cy="429.0" r="2.95" fill="#0c2729"/>
<circle cx="445.2" cy="439.0" r="2.95" fill="#0c2729"/>
<circle cx="490.9" cy="413.5" r="2.95" fill="#0c2729"/>
<circle cx="478.0" cy="447.7" r="2.95" fill="#0c2729"/>
<circle cx="444.2" cy="458.2" r="2.95" fill="#0c2729"/>
<circle cx="437.7" cy="320.2" r="2.95" fill="#3a2425"/>
<circle cx="461.9" cy="330.3" r="2.95" fill="#3a2425"/>
<circle cx="454.2" cy="334.3" r="2.95" fill="#3a2425"/>
<circle cx="477.4" cy="350.4" r="2.95" fill="#3a2425"/>
<circle cx="452.6" cy="365.5" r="2.95" fill="#3a2425"/>
<circle cx="443.8" cy="378.6" r="2.95" fill="#3a2425"/>
<circle cx="468.3" cy="378.0" r="2.95" fill="#3a2425"/>
<circle cx="475.4" cy="374.6" r="2.95" fill="#3a2425"/>
<circle cx="492.5" cy="371.2" r="2.95" fill="#3a2425"/>
<circle cx="493.5" cy="377.2" r="2.95" fill="#3a2425"/>
<circle cx="435.1" cy="383.3" r="2.95" fill="#3a2425"/>
<circle cx="439.1" cy="383.7" r="2.95" fill="#3a2425"/>
<circle cx="445.6" cy="386.7" r="2.95" fill="#3a2425"/>
<circle cx="434.7" cy="388.7" r="2.95" fill="#3a2425"/>
<circle cx="449.6" cy="394.1" r="2.95" fill="#3a2425"/>
<circle cx="466.3" cy="392.7" r="2.95" fill="#3a2425"/>
<circle cx="483.0" cy="391.7" r="2.95" fill="#3a2425"/>
<circle cx="488.9" cy="397.2" r="2.95" fill="#3a2425"/>
<circle cx="507.0" cy="390.7" r="2.95" fill="#3a2425"/>
<circle cx="434.5" cy="404.2" r="2.95" fill="#3a2425"/>
<circle cx="455.2" cy="402.8" r="2.95" fill="#3a2425"/>
<circle cx="482.0" cy="404.8" r="2.95" fill="#3a2425"/>
<circle cx="443.2" cy="410.8" r="2.95" fill="#3a2425"/>
<circle cx="437.5" cy="418.3" r="2.95" fill="#3a2425"/>
<circle cx="483.4" cy="420.3" r="2.95" fill="#3a2425"/>
<circle cx="490.9" cy="417.5" r="2.95" fill="#3a2425"/>
<circle cx="450.6" cy="427.0" r="2.95" fill="#3a2425"/>
<circle cx="494.1" cy="427.6" r="2.95" fill="#3a2425"/>
<circle cx="502.2" cy="433.4" r="2.95" fill="#3a2425"/>
<circle cx="486.9" cy="434.4" r="2.95" fill="#3a2425"/>
<circle cx="462.7" cy="438.4" r="2.95" fill="#4a4a4a"/>
<circle cx="488.9" cy="442.5" r="2.95" fill="#3a2425"/>
<circle cx="446.8" cy="446.1" r="2.95" fill="#3a2425"/>
<circle cx="432.5" cy="450.7" r="2.95" fill="#3a2425"/>
<circle cx="436.1" cy="451.7" r="2.95" fill="#3a2425"/>
<circle cx="445.8" cy="451.1" r="2.95" fill="#3a2425"/>
<circle cx="459.9" cy="450.7" r="2.95" fill="#3a2425"/>
<circle cx="464.3" cy="450.5" r="2.95" fill="#3a2425"/>
<circle cx="494.1" cy="450.7" r="2.95" fill="#3a2425"/>
<circle cx="484.0" cy="458.8" r="2.95" fill="#3a2425"/>
<circle cx="308.9" cy="468.1" r="2.95" fill="#0f1c1e"/>
<circle cx="302.9" cy="480.8" r="2.95" fill="#0f1c1e"/>
<circle cx="308.9" cy="480.2" r="2.95" fill="#0f1c1e"/>
<circle cx="312.0" cy="503.0" r="2.95" fill="#0f1c1e"/>
<circle cx="304.7" cy="516.5" r="2.95" fill="#0f1c1e"/>
<circle cx="311.0" cy="514.9" r="2.95" fill="#0f1c1e"/>
<circle cx="278.3" cy="528.5" r="2.95" fill="#0c0c0c"/>
<circle cx="303.5" cy="530.2" r="2.95" fill="#0f1c1e"/>
<circle cx="318.6" cy="538.2" r="2.95" fill="#0f1c1e"/>
<circle cx="299.9" cy="572.1" r="2.95" fill="#0f1c1e"/>
<circle cx="291.6" cy="604.3" r="2.95" fill="#0f1c1e"/>
<circle cx="334.5" cy="458.5" r="2.95" fill="#3a2425"/>
<circle cx="333.9" cy="467.7" r="2.95" fill="#3a2425"/>
<circle cx="339.0" cy="470.5" r="2.95" fill="#3a2425"/>
<circle cx="348.2" cy="471.1" r="2.95" fill="#3a2425"/>
<circle cx="356.7" cy="469.5" r="2.95" fill="#3a2425"/>
<circle cx="346.0" cy="482.6" r="2.95" fill="#3a2425"/>
<circle cx="391.9" cy="469.1" r="2.95" fill="#3a2425"/>
<circle cx="397.6" cy="467.1" r="2.95" fill="#3a2425"/>
<circle cx="404.6" cy="463.7" r="2.95" fill="#3a2425"/>
<circle cx="403.6" cy="469.1" r="2.95" fill="#3a2425"/>
<circle cx="400.4" cy="464.5" r="2.95" fill="#3a2425"/>
<circle cx="417.1" cy="464.5" r="2.95" fill="#3a2425"/>
<circle cx="426.6" cy="477.2" r="2.95" fill="#3a2425"/>
<circle cx="418.5" cy="480.8" r="2.95" fill="#3a2425"/>
<circle cx="390.5" cy="483.8" r="2.95" fill="#3a2425"/>
<circle cx="379.4" cy="481.2" r="2.95" fill="#3a2425"/>
<circle cx="383.3" cy="492.7" r="2.95" fill="#3a2425"/>
<circle cx="388.9" cy="495.3" r="2.95" fill="#3a2425"/>
<circle cx="386.5" cy="502.0" r="2.95" fill="#3a2425"/>
<circle cx="396.0" cy="503.4" r="2.95" fill="#3a2425"/>
<circle cx="410.1" cy="492.3" r="2.95" fill="#3a2425"/>
<circle cx="359.3" cy="500.4" r="2.95" fill="#3a2425"/>
<circle cx="409.4" cy="509.8" r="2.95" fill="#3a2425"/>
<circle cx="414.1" cy="510.4" r="2.95" fill="#3a2425"/>
<circle cx="421.1" cy="514.9" r="2.95" fill="#3a2425"/>
<circle cx="422.7" cy="520.5" r="2.95" fill="#3a2425"/>
<circle cx="355.3" cy="517.9" r="2.95" fill="#3a2425"/>
<circle cx="358.3" cy="520.1" r="2.95" fill="#3a2425"/>
<circle cx="372.8" cy="517.5" r="2.95" fill="#3a2425"/>
<circle cx="357.3" cy="533.6" r="2.95" fill="#3a2425"/>
<circle cx="352.2" cy="536.2" r="2.95" fill="#3a2425"/>
<circle cx="370.4" cy="531.2" r="2.95" fill="#3a2425"/>
<circle cx="338.5" cy="537.6" r="2.95" fill="#3a2425"/>
<circle cx="344.6" cy="538.0" r="2.95" fill="#3a2425"/>
<circle cx="357.3" cy="543.7" r="2.95" fill="#3a2425"/>
<circle cx="359.3" cy="546.7" r="2.95" fill="#3a2425"/>
<circle cx="415.7" cy="536.6" r="2.95" fill="#3a2425"/>
<circle cx="392.3" cy="550.7" r="2.95" fill="#3a2425"/>
<circle cx="408.4" cy="550.3" r="2.95" fill="#3a2425"/>
<circle cx="332.1" cy="560.4" r="2.95" fill="#3a2425"/>
<circle cx="329.1" cy="563.4" r="2.95" fill="#3a2425"/>
<circle cx="329.9" cy="568.8" r="2.95" fill="#3a2425"/>
<circle cx="337.5" cy="566.4" r="2.95" fill="#3a2425"/>
<circle cx="355.3" cy="560.4" r="2.95" fill="#3a2425"/>
<circle cx="363.3" cy="565.8" r="2.95" fill="#3a2425"/>
<circle cx="374.8" cy="559.8" r="2.95" fill="#3a2425"/>
<circle cx="340.2" cy="571.9" r="2.95" fill="#3a2425"/>
<circle cx="344.6" cy="570.8" r="2.95" fill="#3a2425"/>
<circle cx="352.0" cy="570.8" r="2.95" fill="#3a2425"/>
<circle cx="387.3" cy="565.4" r="2.95" fill="#3a2425"/>
<circle cx="392.3" cy="564.4" r="2.95" fill="#3a2425"/>
<circle cx="403.6" cy="564.4" r="2.95" fill="#3a2425"/>
<circle cx="424.6" cy="562.2" r="2.95" fill="#3a2425"/>
<circle cx="394.3" cy="573.9" r="2.95" fill="#3a2425"/>
<circle cx="373.4" cy="578.9" r="2.95" fill="#3a2425"/>
<circle cx="378.4" cy="579.5" r="2.95" fill="#3a2425"/>
<circle cx="366.7" cy="581.9" r="2.95" fill="#3a2425"/>
<circle cx="356.7" cy="587.0" r="2.95" fill="#3a2425"/>
<circle cx="360.3" cy="585.3" r="2.95" fill="#3a2425"/>
<circle cx="365.3" cy="588.0" r="2.95" fill="#3a2425"/>
<circle cx="385.9" cy="586.0" r="2.95" fill="#3a2425"/>
<circle cx="386.9" cy="591.0" r="2.95" fill="#0c2729"/>
<circle cx="403.6" cy="582.9" r="2.95" fill="#3a2425"/>
<circle cx="413.7" cy="584.5" r="2.95" fill="#0c2729"/>
<circle cx="420.1" cy="581.9" r="2.95" fill="#3a2425"/>
<circle cx="350.6" cy="594.6" r="2.95" fill="#0c2729"/>
<circle cx="367.8" cy="594.6" r="2.95" fill="#0c2729"/>
<circle cx="392.9" cy="595.4" r="2.95" fill="#3a2425"/>
<circle cx="401.0" cy="596.6" r="2.95" fill="#3a2425"/>
<circle cx="403.6" cy="599.0" r="2.95" fill="#3a2425"/>
<circle cx="389.9" cy="601.1" r="2.95" fill="#3a2425"/>
<circle cx="376.4" cy="600.1" r="2.95" fill="#3a2425"/>
<circle cx="335.9" cy="599.4" r="2.95" fill="#3a2425"/>
<circle cx="337.5" cy="605.5" r="2.95" fill="#3a2425"/>
<circle cx="354.3" cy="604.1" r="2.95" fill="#3a2425"/>
<circle cx="369.8" cy="604.7" r="2.95" fill="#3a2425"/>
<circle cx="373.4" cy="609.7" r="2.95" fill="#0c2729"/>
<circle cx="366.7" cy="612.1" r="2.95" fill="#3a2425"/>
<circle cx="362.7" cy="614.1" r="2.95" fill="#3a2425"/>
<circle cx="350.6" cy="612.1" r="2.95" fill="#0c2729"/>
<circle cx="340.2" cy="616.2" r="2.95" fill="#3a2425"/>
<circle cx="406.0" cy="619.2" r="2.95" fill="#0c2729"/>
<circle cx="529.8" cy="465.5" r="2.95" fill="#0f1c1e"/>
<circle cx="529.4" cy="477.8" r="2.95" fill="#0f1c1e"/>
<circle cx="556.4" cy="478.2" r="2.95" fill="#0f1c1e"/>
<circle cx="564.4" cy="477.2" r="2.95" fill="#0f1c1e"/>
<circle cx="551.9" cy="482.6" r="2.95" fill="#0f1c1e"/>
<circle cx="522.7" cy="486.3" r="2.95" fill="#0f1c1e"/>
<circle cx="556.0" cy="507.4" r="2.95" fill="#0f1c1e"/>
<circle cx="551.3" cy="514.5" r="2.95" fill="#0f1c1e"/>
<circle cx="540.4" cy="531.2" r="2.95" fill="#0f1c1e"/>
<circle cx="551.9" cy="529.6" r="2.95" fill="#0f1c1e"/>
<circle cx="561.0" cy="533.0" r="2.95" fill="#0f1c1e"/>
<circle cx="545.5" cy="541.6" r="2.95" fill="#0f1c1e"/>
<circle cx="546.9" cy="547.7" r="2.95" fill="#0f1c1e"/>
<circle cx="520.1" cy="548.3" r="2.95" fill="#0f1c1e"/>
<circle cx="527.1" cy="548.7" r="2.95" fill="#0f1c1e"/>
<circle cx="571.1" cy="557.8" r="2.95" fill="#0c0c0c"/>
<circle cx="538.0" cy="566.8" r="2.95" fill="#0f1c1e"/>
<circle cx="518.7" cy="578.3" r="2.95" fill="#0f1c1e"/>
<circle cx="518.7" cy="583.5" r="2.95" fill="#0f1c1e"/>
<circle cx="518.3" cy="593.0" r="2.95" fill="#0f1c1e"/>
<circle cx="556.0" cy="595.4" r="2.95" fill="#0f1c1e"/>
<circle cx="559.4" cy="594.6" r="2.95" fill="#0f1c1e"/>
<circle cx="569.0" cy="597.6" r="2.95" fill="#0c0c0c"/>
<circle cx="495.5" cy="619.8" r="2.95" fill="#0f1c1e"/>
<circle cx="435.7" cy="466.5" r="2.95" fill="#3a2425"/>
<circle cx="462.3" cy="465.5" r="2.95" fill="#3a2425"/>
<circle cx="507.0" cy="467.5" r="2.95" fill="#3a2425"/>
<circle cx="499.2" cy="471.6" r="2.95" fill="#3a2425"/>
<circle cx="487.1" cy="472.8" r="2.95" fill="#3a2425"/>
<circle cx="495.5" cy="476.8" r="2.95" fill="#3a2425"/>
<circle cx="478.8" cy="477.8" r="2.95" fill="#3a2425"/>
<circle cx="471.4" cy="483.8" r="2.95" fill="#3a2425"/>
<circle cx="456.3" cy="488.7" r="2.95" fill="#3a2425"/>
<circle cx="506.6" cy="493.3" r="2.95" fill="#3a2425"/>
<circle cx="467.9" cy="494.3" r="2.95" fill="#3a2425"/>
<circle cx="444.8" cy="502.0" r="2.95" fill="#3a2425"/>
<circle cx="460.9" cy="503.4" r="2.95" fill="#3a2425"/>
<circle cx="489.9" cy="504.4" r="2.95" fill="#3a2425"/>
<circle cx="447.8" cy="509.8" r="2.95" fill="#3a2425"/>
<circle cx="444.2" cy="514.5" r="2.95" fill="#3a2425"/>
<circle cx="462.3" cy="520.1" r="2.95" fill="#0c2729"/>
<circle cx="461.3" cy="525.1" r="2.95" fill="#3a2425"/>
<circle cx="519.1" cy="515.1" r="2.95" fill="#3a2425"/>
<circle cx="453.6" cy="530.0" r="2.95" fill="#3a2425"/>
<circle cx="440.1" cy="535.0" r="2.95" fill="#3a2425"/>
<circle cx="469.3" cy="533.2" r="2.95" fill="#3a2425"/>
<circle cx="502.0" cy="544.1" r="2.95" fill="#3a2425"/>
<circle cx="433.5" cy="564.8" r="2.95" fill="#3a2425"/>
<circle cx="463.9" cy="560.2" r="2.95" fill="#3a2425"/>
<circle cx="488.5" cy="570.4" r="2.95" fill="#0c2729"/>
<circle cx="439.5" cy="574.9" r="2.95" fill="#0c2729"/>
<circle cx="441.6" cy="578.9" r="2.95" fill="#3a2425"/>
<circle cx="483.4" cy="580.3" r="2.95" fill="#3a2425"/>
<circle cx="469.3" cy="587.6" r="2.95" fill="#0c2729"/>
<circle cx="493.9" cy="590.6" r="2.95" fill="#0c2729"/>
<circle cx="431.1" cy="596.6" r="2.95" fill="#0c2729"/>
<circle cx="439.5" cy="599.6" r="2.95" fill="#0c2729"/>
<circle cx="447.2" cy="595.6" r="2.95" fill="#3a2425"/>
<circle cx="469.3" cy="606.5" r="2.95" fill="#0c2729"/>
<circle cx="487.5" cy="607.1" r="2.95" fill="#3a2425"/>
<circle cx="492.1" cy="604.5" r="2.95" fill="#3a2425"/>
<circle cx="444.2" cy="610.1" r="2.95" fill="#3a2425"/>
<circle cx="463.7" cy="610.5" r="2.95" fill="#3a2425"/>
<circle cx="474.8" cy="612.5" r="2.95" fill="#0c2729"/>
<circle cx="441.8" cy="619.2" r="2.95" fill="#3a2425"/>
<circle cx="343.2" cy="621.5" r="2.95" fill="#0f1c1e"/>
<circle cx="326.9" cy="637.8" r="2.95" fill="#0f1c1e"/>
<circle cx="292.2" cy="650.9" r="2.95" fill="#0c0c0c"/>
<circle cx="352.0" cy="646.9" r="2.95" fill="#0f1c1e"/>
<circle cx="353.1" cy="649.7" r="2.95" fill="#0f1c1e"/>
<circle cx="374.2" cy="627.1" r="2.95" fill="#3a2425"/>
<circle cx="377.2" cy="626.7" r="2.95" fill="#3a2425"/>
<circle cx="391.9" cy="632.2" r="2.95" fill="#3a2425"/>
<circle cx="402.4" cy="636.2" r="2.95" fill="#0c2729"/>
<circle cx="410.1" cy="639.8" r="2.95" fill="#3a2425"/>
<circle cx="418.7" cy="630.1" r="2.95" fill="#3a2425"/>
<circle cx="420.5" cy="626.1" r="2.95" fill="#3a2425"/>
<circle cx="397.6" cy="648.3" r="2.95" fill="#3a2425"/>
<circle cx="422.1" cy="657.9" r="2.95" fill="#0c2729"/>
<circle cx="384.5" cy="669.4" r="2.95" fill="#0f1c1e"/>
<circle cx="414.5" cy="676.1" r="2.95" fill="#0f1c1e"/>
<circle cx="425.6" cy="679.9" r="2.95" fill="#0f1c1e"/>
<circle cx="375.4" cy="687.9" r="2.95" fill="#0f1c1e"/>
<circle cx="375.4" cy="702.2" r="2.95" fill="#0f1c1e"/>
<circle cx="350.2" cy="705.7" r="2.95" fill="#0f1c1e"/>
<circle cx="390.3" cy="722.2" r="2.95" fill="#0f1c1e"/>
<circle cx="429.2" cy="718.8" r="2.95" fill="#0f1c1e"/>
<circle cx="429.2" cy="731.9" r="2.95" fill="#0f1c1e"/>
<circle cx="427.6" cy="754.6" r="2.95" fill="#0f1c1e"/>
<circle cx="394.5" cy="766.7" r="2.95" fill="#0c0c0c"/>
<circle cx="306.7" cy="773.1" r="2.95" fill="#0c0c0c"/>
<circle cx="431.1" cy="632.6" r="2.95" fill="#3a2425"/>
<circle cx="458.3" cy="630.5" r="2.95" fill="#3a2425"/>
<circle cx="464.3" cy="632.2" r="2.95" fill="#3a2425"/>
<circle cx="503.6" cy="623.5" r="2.95" fill="#0f1c1e"/>
<circle cx="551.3" cy="657.7" r="2.95" fill="#0c0c0c"/>
<circle cx="451.2" cy="682.5" r="2.95" fill="#0f1c1e"/>
<circle cx="492.1" cy="677.1" r="2.95" fill="#0f1c1e"/>
<circle cx="504.0" cy="673.4" r="2.95" fill="#0f1c1e"/>
<circle cx="480.4" cy="697.6" r="2.95" fill="#0f1c1e"/>
<circle cx="432.1" cy="718.8" r="2.95" fill="#0f1c1e"/>
<circle cx="437.1" cy="723.4" r="2.95" fill="#0f1c1e"/>
<circle cx="433.7" cy="741.5" r="2.95" fill="#0f1c1e"/>
<circle cx="522.7" cy="735.5" r="2.95" fill="#0c0c0c"/>
<ellipse cx="366" cy="550" rx="14" ry="24" transform="rotate(12 366 550)" fill="#d8a8a8" fill-opacity="0.2"/>
<g stroke-width="4" stroke-linecap="round">
<line x1="443.6" y1="70.2" x2="396.5" y2="894.8" stroke="#ff0000"/>
<line x1="431.7" y1="306" x2="411.6" y2="658" stroke="#e82a30"/>
<line x1="199.8" y1="465.8" x2="642.2" y2="501.2" stroke="#ff0000"/>
<line x1="420" y1="483.3" x2="515" y2="490.9" stroke="#e4282e" stroke-linecap="butt"/>
<line x1="294.9" y1="490.8" x2="540.4" y2="476.5" stroke="#ff0000"/>
<line x1="440" y1="482.1" x2="540.4" y2="476.5" stroke="#c8383c"/>
</g>
<g stroke="#000" stroke-width="2.6" fill="none" stroke-linecap="butt">
<line x1="112.9" y1="144.9" x2="130.5" y2="883.3"/>
<line x1="130.5" y1="883.3" x2="395.0" y2="1010.3"/>
<line x1="395.0" y1="1010.3" x2="751.2" y2="906.4"/>
<line x1="112.9" y1="144.9" x2="98.6" y2="148.3"/>
<line x1="115.9" y1="271.1" x2="101.6" y2="274.7"/>
<line x1="118.9" y1="396.5" x2="104.7" y2="400.1"/>
<line x1="121.9" y1="521.0" x2="107.7" y2="524.7"/>
<line x1="124.8" y1="644.6" x2="110.7" y2="648.3"/>
<line x1="127.7" y1="767.3" x2="113.7" y2="771.1"/>
<line x1="165.0" y1="899.9" x2="151.0" y2="903.9"/>
<line x1="203.3" y1="918.3" x2="189.3" y2="922.3"/>
<line x1="241.9" y1="936.8" x2="227.8" y2="940.8"/>
<line x1="280.8" y1="955.5" x2="266.7" y2="959.5"/>
<line x1="320.0" y1="974.3" x2="305.9" y2="978.4"/>
<line x1="359.6" y1="993.3" x2="345.4" y2="997.4"/>
<line x1="443.2" y1="996.2" x2="454.1" y2="1001.4"/>
<line x1="496.3" y1="980.7" x2="507.2" y2="985.9"/>
<line x1="549.1" y1="965.4" x2="560.0" y2="970.5"/>
<line x1="601.5" y1="950.1" x2="612.4" y2="955.2"/>
<line x1="653.6" y1="934.9" x2="664.6" y2="939.9"/>
<line x1="705.4" y1="919.8" x2="716.4" y2="924.8"/>
</g>
<g font-family="Liberation Serif, serif" fill="#000" stroke="#fff" stroke-width="0.12" opacity="0.99">
<text transform="matrix(3.1854,-0.7610,0.0920,3.7244,81.6,153.5)" x="0" y="0" font-size="10" text-anchor="middle" dominant-baseline="central" >0</text>
<text transform="matrix(3.1760,-0.7812,0.0921,3.6991,77.6,281.6)" x="0" y="0" font-size="10" text-anchor="middle" dominant-baseline="central" >20</text>
<text transform="matrix(3.1643,-0.8007,0.0915,3.6728,80.2,407.9)" x="0" y="0" font-size="10" text-anchor="middle" dominant-baseline="central" >40</text>
<text transform="matrix(3.1526,-0.8197,0.0909,3.6469,83.0,532.5)" x="0" y="0" font-size="10" text-anchor="middle" dominant-baseline="central" >60</text>
<text transform="matrix(3.1411,-0.8386,0.0903,3.6211,85.5,657.0)" x="0" y="0" font-size="10" text-anchor="middle" dominant-baseline="central" >80</text>
<text transform="matrix(3.1315,-0.8575,0.0903,3.5967,83.0,781.0)" x="0" y="0" font-size="10" text-anchor="middle" dominant-baseline="central" >100</text>
<text transform="matrix(2.4,-0.45,0.12,4.83,26.9,543)" font-size="10" text-anchor="middle" dominant-baseline="central">Y</text>
<text transform="matrix(3.1366,-0.8837,2.2481,1.0846,134.7,908.5)" x="0" y="0" font-size="10" text-anchor="middle" dominant-baseline="central" >0</text>
<text transform="matrix(3.1451,-0.8913,2.2652,1.0943,165.5,929.8)" x="0" y="0" font-size="10" text-anchor="middle" dominant-baseline="central" >10</text>
<text transform="matrix(3.1512,-0.8984,2.2831,1.1032,203.5,949.2)" x="0" y="0" font-size="10" text-anchor="middle" dominant-baseline="central" >20</text>
<text transform="matrix(3.1558,-0.9048,2.3006,1.1113,242.7,966.8)" x="0" y="0" font-size="10" text-anchor="middle" dominant-baseline="central" >30</text>
<text transform="matrix(3.1610,-0.9118,2.3193,1.1201,284.0,985.8)" x="0" y="0" font-size="10" text-anchor="middle" dominant-baseline="central" >40</text>
<text transform="matrix(3.1659,-0.9183,2.3364,1.1283,321.3,1003.5)" x="0" y="0" font-size="10" text-anchor="middle" dominant-baseline="central" >50</text>
<text transform="matrix(2.4810,1.2064,-3.4360,0.9822,181.8,968.9)" x="0" y="0" font-size="10" text-anchor="middle" dominant-baseline="central" >X</text>
<text transform="matrix(2.2918,1.0919,-3.0367,0.8886,465.2,1006.8)" x="0" y="0" font-size="10" text-anchor="middle" dominant-baseline="central" >0</text>
<text transform="matrix(2.3001,1.0870,-3.0202,0.8847,523.6,995.6)" x="0" y="0" font-size="10" text-anchor="middle" dominant-baseline="central" >10</text>
<text transform="matrix(2.3048,1.0804,-3.0023,0.8795,575.5,980.3)" x="0" y="0" font-size="10" text-anchor="middle" dominant-baseline="central" >20</text>
<text transform="matrix(2.3092,1.0734,-2.9840,0.8740,627.5,964.3)" x="0" y="0" font-size="10" text-anchor="middle" dominant-baseline="central" >30</text>
<text transform="matrix(2.3149,1.0672,-2.9664,0.8691,681.9,950.0)" x="0" y="0" font-size="10" text-anchor="middle" dominant-baseline="central" >40</text>
<text transform="matrix(3.3637,-0.9899,2.6063,1.2160,635.6,986.0)" x="0" y="0" font-size="10" text-anchor="middle" dominant-baseline="central" >Z</text>
</g>
<rect x="509.2" y="819.7" width="317.9" height="120.8" fill="#fff" stroke="#000" stroke-width="1"/>
<circle cx="534.0" cy="833.6" r="3.4" fill="#000"/>
<rect x="512.6" y="846.3" width="43.2" height="21.4" fill="#b9fefe"/>
<rect x="512.6" y="870.0" width="43.2" height="20.8" fill="#e0e0e0"/>
<rect x="512.6" y="893.7" width="43.2" height="20.8" fill="#fde3e3"/>
<line x1="513.6" y1="928.2" x2="555.1" y2="928.2" stroke="#ff0000" stroke-width="4.2" stroke-linecap="round"/>
<g font-family="Liberation Mono, monospace" font-size="17.9" fill="#000" stroke="#fff" stroke-width="0.2" opacity="0.99">
<text x="566.6" y="840.6" transform="translate(0 840.6) scale(1 1.13) translate(0 -840.6)">microcrack</text>
<text x="566.6" y="864.7" transform="translate(0 864.7) scale(1 1.13) translate(0 -864.7)">3D convex hull</text>
<text x="566.6" y="888.0" transform="translate(0 888.0) scale(1 1.13) translate(0 -888.0)">MVEE</text>
<text x="566.6" y="911.7" transform="translate(0 911.7) scale(1 1.13) translate(0 -911.7)">TDPS in different scales</text>
<text x="566.6" y="935.4" transform="translate(0 935.4) scale(1 1.13) translate(0 -935.4)">Axes of TDPS</text>
</g>
</svg>
</body></html>
